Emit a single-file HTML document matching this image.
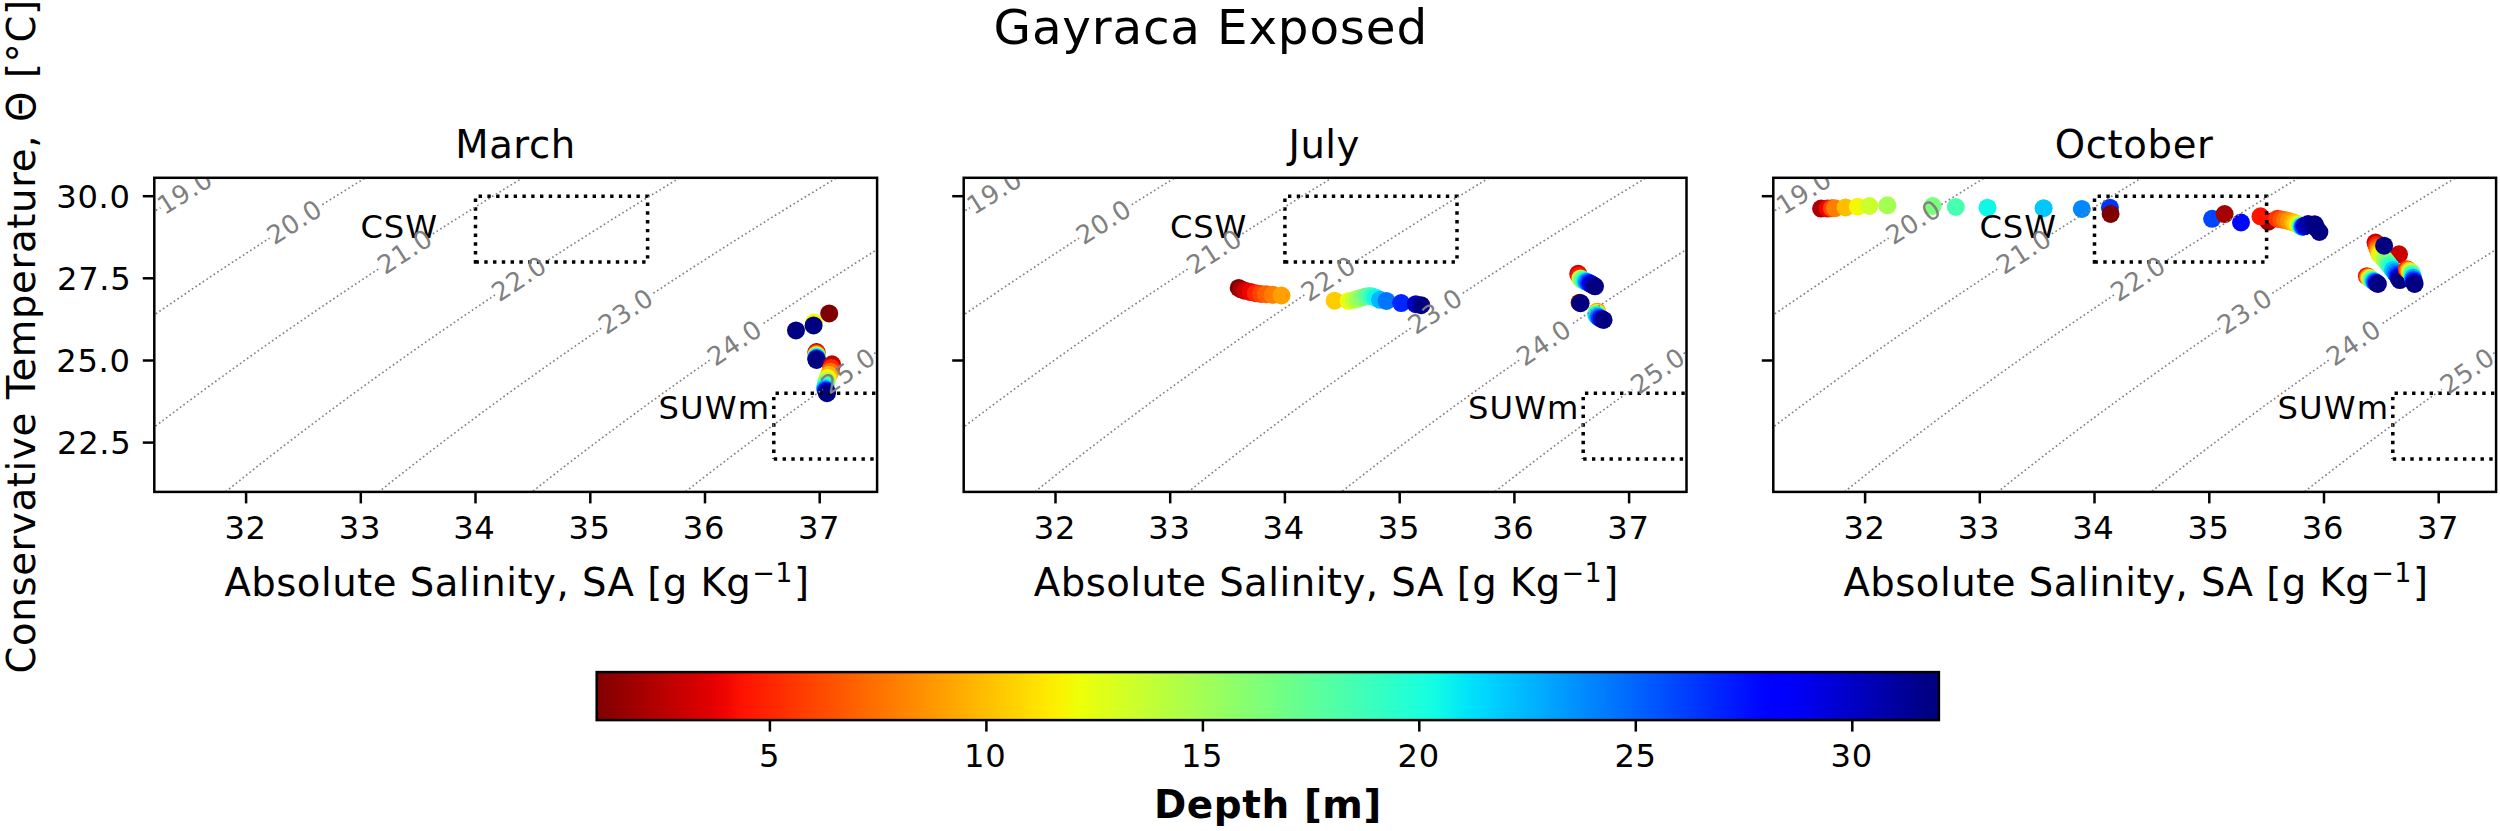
<!DOCTYPE html>
<html lang="en"><head><meta charset="utf-8"><title>Gayraca Exposed</title>
<style>html,body{margin:0;padding:0;background:#fff}svg{display:block}</style></head>
<body>
<svg width="2500" height="831" viewBox="0 0 2500 831" role="img" aria-label="Gayraca Exposed T-S diagrams">
<rect width="2500" height="831" fill="#fff"/>
<defs>
<clipPath id="c0"><rect x="154.3" y="177.8" width="722.8" height="314.1"/></clipPath>
<clipPath id="c1"><rect x="963.7" y="177.8" width="722.8" height="314.1"/></clipPath>
<clipPath id="c2"><rect x="1773.3" y="177.8" width="722.8" height="314.1"/></clipPath>
<linearGradient id="jet" x1="0" x2="1" y1="0" y2="0"><stop offset="0.0000" stop-color="#800000"/><stop offset="0.0078" stop-color="#890000"/><stop offset="0.0156" stop-color="#920000"/><stop offset="0.0234" stop-color="#9b0000"/><stop offset="0.0312" stop-color="#a40000"/><stop offset="0.0391" stop-color="#ad0000"/><stop offset="0.0469" stop-color="#b60000"/><stop offset="0.0547" stop-color="#bf0000"/><stop offset="0.0625" stop-color="#c80000"/><stop offset="0.0703" stop-color="#d10000"/><stop offset="0.0781" stop-color="#da0000"/><stop offset="0.0859" stop-color="#e40000"/><stop offset="0.0938" stop-color="#ed0400"/><stop offset="0.1016" stop-color="#f60b00"/><stop offset="0.1094" stop-color="#ff1300"/><stop offset="0.1172" stop-color="#ff1a00"/><stop offset="0.1250" stop-color="#ff2200"/><stop offset="0.1328" stop-color="#ff2900"/><stop offset="0.1406" stop-color="#ff3000"/><stop offset="0.1484" stop-color="#ff3800"/><stop offset="0.1562" stop-color="#ff3f00"/><stop offset="0.1641" stop-color="#ff4700"/><stop offset="0.1719" stop-color="#ff4e00"/><stop offset="0.1797" stop-color="#ff5500"/><stop offset="0.1875" stop-color="#ff5d00"/><stop offset="0.1953" stop-color="#ff6400"/><stop offset="0.2031" stop-color="#ff6c00"/><stop offset="0.2109" stop-color="#ff7300"/><stop offset="0.2188" stop-color="#ff7a00"/><stop offset="0.2266" stop-color="#ff8200"/><stop offset="0.2344" stop-color="#ff8900"/><stop offset="0.2422" stop-color="#ff9100"/><stop offset="0.2500" stop-color="#ff9800"/><stop offset="0.2578" stop-color="#ff9f00"/><stop offset="0.2656" stop-color="#ffa700"/><stop offset="0.2734" stop-color="#ffae00"/><stop offset="0.2812" stop-color="#ffb600"/><stop offset="0.2891" stop-color="#ffbd00"/><stop offset="0.2969" stop-color="#ffc400"/><stop offset="0.3047" stop-color="#ffcc00"/><stop offset="0.3125" stop-color="#ffd300"/><stop offset="0.3203" stop-color="#ffdb00"/><stop offset="0.3281" stop-color="#ffe200"/><stop offset="0.3359" stop-color="#ffea00"/><stop offset="0.3438" stop-color="#fbf100"/><stop offset="0.3516" stop-color="#f4f802"/><stop offset="0.3594" stop-color="#eeff09"/><stop offset="0.3672" stop-color="#e7ff0f"/><stop offset="0.3750" stop-color="#e1ff16"/><stop offset="0.3828" stop-color="#dbff1c"/><stop offset="0.3906" stop-color="#d4ff23"/><stop offset="0.3984" stop-color="#ceff29"/><stop offset="0.4062" stop-color="#c7ff30"/><stop offset="0.4141" stop-color="#c1ff36"/><stop offset="0.4219" stop-color="#baff3c"/><stop offset="0.4297" stop-color="#b4ff43"/><stop offset="0.4375" stop-color="#adff49"/><stop offset="0.4453" stop-color="#a7ff50"/><stop offset="0.4531" stop-color="#a0ff56"/><stop offset="0.4609" stop-color="#9aff5d"/><stop offset="0.4688" stop-color="#94ff63"/><stop offset="0.4766" stop-color="#8dff6a"/><stop offset="0.4844" stop-color="#87ff70"/><stop offset="0.4922" stop-color="#80ff77"/><stop offset="0.5000" stop-color="#7aff7d"/><stop offset="0.5078" stop-color="#73ff83"/><stop offset="0.5156" stop-color="#6dff8a"/><stop offset="0.5234" stop-color="#66ff90"/><stop offset="0.5312" stop-color="#60ff97"/><stop offset="0.5391" stop-color="#5aff9d"/><stop offset="0.5469" stop-color="#53ffa4"/><stop offset="0.5547" stop-color="#4dffaa"/><stop offset="0.5625" stop-color="#46ffb1"/><stop offset="0.5703" stop-color="#40ffb7"/><stop offset="0.5781" stop-color="#39ffbe"/><stop offset="0.5859" stop-color="#33ffc4"/><stop offset="0.5938" stop-color="#2cffca"/><stop offset="0.6016" stop-color="#26ffd1"/><stop offset="0.6094" stop-color="#1fffd7"/><stop offset="0.6172" stop-color="#19ffde"/><stop offset="0.6250" stop-color="#13fce4"/><stop offset="0.6328" stop-color="#0cf4eb"/><stop offset="0.6406" stop-color="#06edf1"/><stop offset="0.6484" stop-color="#00e4f8"/><stop offset="0.6562" stop-color="#00dcfe"/><stop offset="0.6641" stop-color="#00d4ff"/><stop offset="0.6719" stop-color="#00ccff"/><stop offset="0.6797" stop-color="#00c4ff"/><stop offset="0.6875" stop-color="#00bcff"/><stop offset="0.6953" stop-color="#00b4ff"/><stop offset="0.7031" stop-color="#00adff"/><stop offset="0.7109" stop-color="#00a4ff"/><stop offset="0.7188" stop-color="#009cff"/><stop offset="0.7266" stop-color="#0094ff"/><stop offset="0.7344" stop-color="#008cff"/><stop offset="0.7422" stop-color="#0084ff"/><stop offset="0.7500" stop-color="#007dff"/><stop offset="0.7578" stop-color="#0075ff"/><stop offset="0.7656" stop-color="#006dff"/><stop offset="0.7734" stop-color="#0065ff"/><stop offset="0.7812" stop-color="#005dff"/><stop offset="0.7891" stop-color="#0055ff"/><stop offset="0.7969" stop-color="#004dff"/><stop offset="0.8047" stop-color="#0045ff"/><stop offset="0.8125" stop-color="#003dff"/><stop offset="0.8203" stop-color="#0035ff"/><stop offset="0.8281" stop-color="#002dff"/><stop offset="0.8359" stop-color="#0025ff"/><stop offset="0.8438" stop-color="#001dff"/><stop offset="0.8516" stop-color="#0015ff"/><stop offset="0.8594" stop-color="#000dff"/><stop offset="0.8672" stop-color="#0005ff"/><stop offset="0.8750" stop-color="#0000ff"/><stop offset="0.8828" stop-color="#0000ff"/><stop offset="0.8906" stop-color="#0000fa"/><stop offset="0.8984" stop-color="#0000f1"/><stop offset="0.9062" stop-color="#0000e8"/><stop offset="0.9141" stop-color="#0000df"/><stop offset="0.9219" stop-color="#0000d6"/><stop offset="0.9297" stop-color="#0000cd"/><stop offset="0.9375" stop-color="#0000c4"/><stop offset="0.9453" stop-color="#0000bb"/><stop offset="0.9531" stop-color="#0000b2"/><stop offset="0.9609" stop-color="#0000a8"/><stop offset="0.9688" stop-color="#00009f"/><stop offset="0.9766" stop-color="#000096"/><stop offset="0.9844" stop-color="#00008d"/><stop offset="0.9922" stop-color="#000084"/><stop offset="1.0000" stop-color="#000080"/></linearGradient>
</defs>
<text x="993.59" y="43.50" font-size="48.40" letter-spacing="0.809" fill="#000" font-family="DejaVu Sans, Liberation Sans, sans-serif" >Gayraca Exposed</text>
<g clip-path="url(#c0)">
<circle cx="829.2" cy="313.4" r="9.0" fill="#800000"/>
<circle cx="814.0" cy="322.5" r="9.0" fill="#f4f802"/>
<circle cx="813.6" cy="325.4" r="9.0" fill="#000080"/>
<circle cx="796.0" cy="330.4" r="9.0" fill="#000080"/>
<circle cx="816.5" cy="352.1" r="9.0" fill="#a40000"/>
<circle cx="816.5" cy="353.1" r="9.0" fill="#ff1a00"/>
<circle cx="816.5" cy="354.1" r="9.0" fill="#ff6f00"/>
<circle cx="816.5" cy="355.0" r="9.0" fill="#ffc100"/>
<circle cx="816.5" cy="355.6" r="9.0" fill="#dbff1c"/>
<circle cx="816.5" cy="356.1" r="9.0" fill="#94ff63"/>
<circle cx="816.5" cy="356.7" r="9.0" fill="#49ffad"/>
<circle cx="816.5" cy="357.3" r="9.0" fill="#02e8f4"/>
<circle cx="816.5" cy="358.0" r="9.0" fill="#008cff"/>
<circle cx="816.5" cy="358.6" r="9.0" fill="#0035ff"/>
<circle cx="816.5" cy="359.3" r="9.0" fill="#0000e4"/>
<circle cx="816.5" cy="360.0" r="9.0" fill="#000080"/>
<circle cx="832.0" cy="364.3" r="9.0" fill="#c80000"/>
<circle cx="831.2" cy="368.0" r="9.0" fill="#ff2900"/>
<circle cx="830.3" cy="371.7" r="9.0" fill="#ff6f00"/>
<circle cx="829.0" cy="374.8" r="9.0" fill="#ffb200"/>
<circle cx="827.6" cy="378.0" r="9.0" fill="#f4f802"/>
<circle cx="826.7" cy="380.7" r="9.0" fill="#baff3c"/>
<circle cx="826.2" cy="383.1" r="9.0" fill="#7dff7a"/>
<circle cx="825.6" cy="385.5" r="9.0" fill="#43ffb4"/>
<circle cx="825.0" cy="387.8" r="9.0" fill="#09f0ee"/>
<circle cx="825.4" cy="389.0" r="9.0" fill="#00a4ff"/>
<circle cx="825.8" cy="390.0" r="9.0" fill="#005dff"/>
<circle cx="826.2" cy="391.1" r="9.0" fill="#0010ff"/>
<circle cx="826.6" cy="392.1" r="9.0" fill="#0000d1"/>
<circle cx="827.0" cy="393.2" r="9.0" fill="#000080"/>
<path d="M475.5 261.9 L647.6 261.9 L647.6 196.2 L475.5 196.2 Z" stroke="#000" stroke-width="3.5" stroke-dasharray="3.4 5.37" fill="none"/>
<path d="M773.8 459.0 L875.4 459.0 M875.4 393.3 L773.8 393.3 L773.8 459.0" stroke="#000" stroke-width="3.5" stroke-dasharray="3.4 5.37" fill="none"/>
<path d="M148.6 215.3 L150.4 214.1 L152.2 212.9 L154.1 211.8 L155.9 210.6 L157.8 209.4 L159.6 208.3 L160.5 207.7" fill="none" stroke="#808080" stroke-width="1.65" stroke-dasharray="1.65 2.72"/>
<path d="M148.6 318.9 L150.4 317.6 L152.2 316.3 L154.1 315.0 L155.9 313.8 L157.8 312.5 L159.6 311.2 L161.4 310.0 L163.3 308.7 L165.1 307.5 L167.0 306.2 L168.8 304.9 L170.6 303.7 L172.5 302.4 L174.3 301.2 L176.2 299.9 L178.0 298.7 L179.8 297.4 L181.7 296.2 L183.5 294.9 L185.4 293.7 L187.2 292.5 L189.0 291.2 L190.9 290.0 L192.7 288.7 L194.6 287.5 L196.4 286.3 L198.3 285.0 L200.1 283.8 L201.9 282.6 L203.8 281.3 L205.6 280.1 L207.5 278.9 L209.3 277.6 L211.1 276.4 L213.0 275.2 L214.8 274.0 L216.7 272.7 L218.5 271.5 L220.3 270.3 L222.2 269.1 L224.0 267.9 L225.9 266.6 L227.7 265.4 L229.5 264.2 L231.4 263.0 L233.2 261.8 L235.1 260.6 L236.9 259.4 L238.7 258.2 L240.6 257.0 L242.4 255.8 L244.3 254.6 L246.1 253.4 L247.9 252.2 L249.8 251.0 L251.6 249.8 L253.5 248.6 L255.3 247.4 L257.1 246.2 L259.0 245.0 L260.8 243.8 L262.7 242.6 L264.5 241.4 L266.3 240.2 L268.2 239.0 L269.7 238.1" fill="none" stroke="#808080" stroke-width="1.65" stroke-dasharray="1.65 2.72"/>
<path d="M322.3 204.6 L323.4 204.0 L325.2 202.8 L327.1 201.6 L328.9 200.5 L330.8 199.3 L332.6 198.2 L334.4 197.1 L336.3 195.9 L338.1 194.8 L340.0 193.6 L341.8 192.5 L343.6 191.3 L345.5 190.2 L347.3 189.1 L349.2 187.9 L351.0 186.8 L352.8 185.6 L354.7 184.5 L356.5 183.4 L358.4 182.2 L360.2 181.1 L362.0 180.0 L363.9 178.8 L365.7 177.7 L367.6 176.6 L369.4 175.5" fill="none" stroke="#808080" stroke-width="1.65" stroke-dasharray="1.65 2.72"/>
<path d="M148.6 431.4 L150.4 430.0 L152.2 428.6 L154.1 427.2 L155.9 425.8 L157.8 424.4 L159.6 423.0 L161.4 421.6 L163.3 420.2 L165.1 418.8 L167.0 417.4 L168.8 416.0 L170.6 414.6 L172.5 413.2 L174.3 411.9 L176.2 410.5 L178.0 409.1 L179.8 407.7 L181.7 406.4 L183.5 405.0 L185.4 403.6 L187.2 402.2 L189.0 400.9 L190.9 399.5 L192.7 398.2 L194.6 396.8 L196.4 395.4 L198.3 394.1 L200.1 392.7 L201.9 391.4 L203.8 390.0 L205.6 388.7 L207.5 387.3 L209.3 386.0 L211.1 384.6 L213.0 383.3 L214.8 381.9 L216.7 380.6 L218.5 379.3 L220.3 377.9 L222.2 376.6 L224.0 375.3 L225.9 373.9 L227.7 372.6 L229.5 371.3 L231.4 370.0 L233.2 368.6 L235.1 367.3 L236.9 366.0 L238.7 364.7 L240.6 363.4 L242.4 362.0 L244.3 360.7 L246.1 359.4 L247.9 358.1 L249.8 356.8 L251.6 355.5 L253.5 354.2 L255.3 352.9 L257.1 351.6 L259.0 350.3 L260.8 349.0 L262.7 347.7 L264.5 346.4 L266.3 345.1 L268.2 343.8 L270.0 342.5 L271.9 341.2 L273.7 339.9 L275.5 338.6 L277.4 337.4 L279.2 336.1 L281.1 334.8 L282.9 333.5 L284.7 332.2 L286.6 331.0 L288.4 329.7 L290.3 328.4 L292.1 327.1 L293.9 325.9 L295.8 324.6 L297.6 323.3 L299.5 322.1 L301.3 320.8 L303.1 319.5 L305.0 318.3 L306.8 317.0 L308.7 315.7 L310.5 314.5 L312.3 313.2 L314.2 312.0 L316.0 310.7 L317.9 309.5 L319.7 308.2 L321.6 307.0 L323.4 305.7 L325.2 304.5 L327.1 303.2 L328.9 302.0 L330.8 300.7 L332.6 299.5 L334.4 298.3 L336.3 297.0 L338.1 295.8 L340.0 294.5 L341.8 293.3 L343.6 292.1 L345.5 290.8 L347.3 289.6 L349.2 288.4 L351.0 287.2 L352.8 285.9 L354.7 284.7 L356.5 283.5 L358.4 282.3 L360.2 281.0 L362.0 279.8 L363.9 278.6 L365.7 277.4 L367.6 276.2 L369.4 274.9 L371.2 273.7 L373.1 272.5 L374.9 271.3 L376.8 270.1 L378.6 268.9 L380.4 267.7" fill="none" stroke="#808080" stroke-width="1.65" stroke-dasharray="1.65 2.72"/>
<path d="M432.8 233.8 L433.8 233.2 L435.6 232.0 L437.5 230.9 L439.3 229.7 L441.2 228.5 L443.0 227.3 L444.8 226.2 L446.7 225.0 L448.5 223.9 L450.4 222.7 L452.2 221.5 L454.1 220.4 L455.9 219.2 L457.7 218.0 L459.6 216.9 L461.4 215.7 L463.3 214.6 L465.1 213.4 L466.9 212.3 L468.8 211.1 L470.6 210.0 L472.5 208.8 L474.3 207.7 L476.1 206.5 L478.0 205.4 L479.8 204.2 L481.7 203.1 L483.5 201.9 L485.3 200.8 L487.2 199.7 L489.0 198.5 L490.9 197.4 L492.7 196.2 L494.5 195.1 L496.4 194.0 L498.2 192.8 L500.1 191.7 L501.9 190.6 L503.7 189.4 L505.6 188.3 L507.4 187.2 L509.3 186.0 L511.1 184.9 L512.9 183.8 L514.8 182.7 L516.6 181.5 L518.5 180.4 L520.3 179.3 L522.1 178.2 L524.0 177.0 L525.8 175.9 L527.7 174.8" fill="none" stroke="#808080" stroke-width="1.65" stroke-dasharray="1.65 2.72"/>
<path d="M222.2 494.5 L224.0 493.0 L225.9 491.6 L227.7 490.1 L229.5 488.6 L231.4 487.1 L233.2 485.6 L235.1 484.1 L236.9 482.7 L238.7 481.2 L240.6 479.7 L242.4 478.3 L244.3 476.8 L246.1 475.3 L247.9 473.9 L249.8 472.4 L251.6 470.9 L253.5 469.5 L255.3 468.0 L257.1 466.6 L259.0 465.1 L260.8 463.7 L262.7 462.3 L264.5 460.8 L266.3 459.4 L268.2 457.9 L270.0 456.5 L271.9 455.1 L273.7 453.6 L275.5 452.2 L277.4 450.8 L279.2 449.4 L281.1 447.9 L282.9 446.5 L284.7 445.1 L286.6 443.7 L288.4 442.3 L290.3 440.9 L292.1 439.5 L293.9 438.1 L295.8 436.7 L297.6 435.3 L299.5 433.9 L301.3 432.5 L303.1 431.1 L305.0 429.7 L306.8 428.3 L308.7 426.9 L310.5 425.5 L312.3 424.1 L314.2 422.7 L316.0 421.3 L317.9 420.0 L319.7 418.6 L321.6 417.2 L323.4 415.8 L325.2 414.5 L327.1 413.1 L328.9 411.7 L330.8 410.3 L332.6 409.0 L334.4 407.6 L336.3 406.3 L338.1 404.9 L340.0 403.5 L341.8 402.2 L343.6 400.8 L345.5 399.5 L347.3 398.1 L349.2 396.8 L351.0 395.4 L352.8 394.1 L354.7 392.7 L356.5 391.4 L358.4 390.1 L360.2 388.7 L362.0 387.4 L363.9 386.1 L365.7 384.7 L367.6 383.4 L369.4 382.1 L371.2 380.7 L373.1 379.4 L374.9 378.1 L376.8 376.8 L378.6 375.4 L380.4 374.1 L382.3 372.8 L384.1 371.5 L386.0 370.2 L387.8 368.9 L389.6 367.5 L391.5 366.2 L393.3 364.9 L395.2 363.6 L397.0 362.3 L398.8 361.0 L400.7 359.7 L402.5 358.4 L404.4 357.1 L406.2 355.8 L408.0 354.5 L409.9 353.2 L411.7 351.9 L413.6 350.6 L415.4 349.4 L417.2 348.1 L419.1 346.8 L420.9 345.5 L422.8 344.2 L424.6 342.9 L426.4 341.7 L428.3 340.4 L430.1 339.1 L432.0 337.8 L433.8 336.6 L435.6 335.3 L437.5 334.0 L439.3 332.7 L441.2 331.5 L443.0 330.2 L444.8 328.9 L446.7 327.7 L448.5 326.4 L450.4 325.2 L452.2 323.9 L454.1 322.6 L455.9 321.4 L457.7 320.1 L459.6 318.9 L461.4 317.6 L463.3 316.4 L465.1 315.1 L466.9 313.9 L468.8 312.6 L470.6 311.4 L472.5 310.1 L474.3 308.9 L476.1 307.7 L478.0 306.4 L479.8 305.2 L481.7 304.0 L483.5 302.7 L485.3 301.5 L487.2 300.2 L489.0 299.0 L490.9 297.8 L492.7 296.6 L494.5 295.3 L496.3 294.1" fill="none" stroke="#808080" stroke-width="1.65" stroke-dasharray="1.65 2.72"/>
<path d="M548.5 259.9 L549.7 259.1 L551.6 257.9 L553.4 256.7 L555.3 255.5 L557.1 254.4 L558.9 253.2 L560.8 252.0 L562.6 250.8 L564.5 249.6 L566.3 248.4 L568.1 247.3 L570.0 246.1 L571.8 244.9 L573.7 243.7 L575.5 242.6 L577.3 241.4 L579.2 240.2 L581.0 239.1 L582.9 237.9 L584.7 236.7 L586.6 235.5 L588.4 234.4 L590.2 233.2 L592.1 232.1 L593.9 230.9 L595.8 229.7 L597.6 228.6 L599.4 227.4 L601.3 226.3 L603.1 225.1 L605.0 223.9 L606.8 222.8 L608.6 221.6 L610.5 220.5 L612.3 219.3 L614.2 218.2 L616.0 217.0 L617.8 215.9 L619.7 214.7 L621.5 213.6 L623.4 212.4 L625.2 211.3 L627.0 210.2 L628.9 209.0 L630.7 207.9 L632.6 206.7 L634.4 205.6 L636.2 204.5 L638.1 203.3 L639.9 202.2 L641.8 201.0 L643.6 199.9 L645.4 198.8 L647.3 197.6 L649.1 196.5 L651.0 195.4 L652.8 194.3 L654.6 193.1 L656.5 192.0 L658.3 190.9 L660.2 189.8 L662.0 188.6 L663.8 187.5 L665.7 186.4 L667.5 185.3 L669.4 184.1 L671.2 183.0 L673.0 181.9 L674.9 180.8 L676.7 179.7 L678.6 178.6 L680.4 177.4 L682.2 176.3 L684.1 175.2" fill="none" stroke="#808080" stroke-width="1.65" stroke-dasharray="1.65 2.72"/>
<path d="M374.9 495.0 L376.8 493.5 L378.6 492.0 L380.4 490.6 L382.3 489.1 L384.1 487.6 L386.0 486.2 L387.8 484.7 L389.6 483.2 L391.5 481.8 L393.3 480.3 L395.2 478.9 L397.0 477.4 L398.8 476.0 L400.7 474.5 L402.5 473.1 L404.4 471.6 L406.2 470.2 L408.0 468.7 L409.9 467.3 L411.7 465.9 L413.6 464.4 L415.4 463.0 L417.2 461.6 L419.1 460.1 L420.9 458.7 L422.8 457.3 L424.6 455.9 L426.4 454.5 L428.3 453.0 L430.1 451.6 L432.0 450.2 L433.8 448.8 L435.6 447.4 L437.5 446.0 L439.3 444.6 L441.2 443.2 L443.0 441.8 L444.8 440.4 L446.7 439.0 L448.5 437.6 L450.4 436.2 L452.2 434.8 L454.1 433.4 L455.9 432.1 L457.7 430.7 L459.6 429.3 L461.4 427.9 L463.3 426.5 L465.1 425.2 L466.9 423.8 L468.8 422.4 L470.6 421.1 L472.5 419.7 L474.3 418.3 L476.1 417.0 L478.0 415.6 L479.8 414.2 L481.7 412.9 L483.5 411.5 L485.3 410.2 L487.2 408.8 L489.0 407.5 L490.9 406.1 L492.7 404.8 L494.5 403.4 L496.4 402.1 L498.2 400.7 L500.1 399.4 L501.9 398.1 L503.7 396.7 L505.6 395.4 L507.4 394.0 L509.3 392.7 L511.1 391.4 L512.9 390.1 L514.8 388.7 L516.6 387.4 L518.5 386.1 L520.3 384.8 L522.1 383.4 L524.0 382.1 L525.8 380.8 L527.7 379.5 L529.5 378.2 L531.3 376.9 L533.2 375.6 L535.0 374.2 L536.9 372.9 L538.7 371.6 L540.5 370.3 L542.4 369.0 L544.2 367.7 L546.1 366.4 L547.9 365.1 L549.7 363.8 L551.6 362.5 L553.4 361.3 L555.3 360.0 L557.1 358.7 L558.9 357.4 L560.8 356.1 L562.6 354.8 L564.5 353.5 L566.3 352.2 L568.1 351.0 L570.0 349.7 L571.8 348.4 L573.7 347.1 L575.5 345.9 L577.3 344.6 L579.2 343.3 L581.0 342.0 L582.9 340.8 L584.7 339.5 L586.6 338.2 L588.4 337.0 L590.2 335.7 L592.1 334.5 L593.9 333.2 L595.8 331.9 L597.6 330.7 L599.4 329.4 L601.3 328.2 L601.6 328.0" fill="none" stroke="#808080" stroke-width="1.65" stroke-dasharray="1.65 2.72"/>
<path d="M653.4 293.2 L654.6 292.4 L656.5 291.2 L658.3 290.0 L660.2 288.8 L662.0 287.6 L663.8 286.4 L665.7 285.1 L667.5 283.9 L669.4 282.7 L671.2 281.5 L673.0 280.3 L674.9 279.1 L676.7 277.9 L678.6 276.7 L680.4 275.5 L682.2 274.3 L684.1 273.1 L685.9 271.9 L687.8 270.8 L689.6 269.6 L691.4 268.4 L693.3 267.2 L695.1 266.0 L697.0 264.8 L698.8 263.6 L700.6 262.4 L702.5 261.3 L704.3 260.1 L706.2 258.9 L708.0 257.7 L709.8 256.5 L711.7 255.4 L713.5 254.2 L715.4 253.0 L717.2 251.8 L719.1 250.7 L720.9 249.5 L722.7 248.3 L724.6 247.1 L726.4 246.0 L728.3 244.8 L730.1 243.6 L731.9 242.5 L733.8 241.3 L735.6 240.1 L737.5 239.0 L739.3 237.8 L741.1 236.7 L743.0 235.5 L744.8 234.4 L746.7 233.2 L748.5 232.0 L750.3 230.9 L752.2 229.7 L754.0 228.6 L755.9 227.4 L757.7 226.3 L759.5 225.1 L761.4 224.0 L763.2 222.8 L765.1 221.7 L766.9 220.5 L768.7 219.4 L770.6 218.3 L772.4 217.1 L774.3 216.0 L776.1 214.8 L777.9 213.7 L779.8 212.6 L781.6 211.4 L783.5 210.3 L785.3 209.2 L787.1 208.0 L789.0 206.9 L790.8 205.8 L792.7 204.6 L794.5 203.5 L796.3 202.4 L798.2 201.2 L800.0 200.1 L801.9 199.0 L803.7 197.9 L805.5 196.7 L807.4 195.6 L809.2 194.5 L811.1 193.4 L812.9 192.3 L814.7 191.1 L816.6 190.0 L818.4 188.9 L820.3 187.8 L822.1 186.7 L823.9 185.6 L825.8 184.5 L827.6 183.3 L829.5 182.2 L831.3 181.1 L833.1 180.0 L835.0 178.9 L836.8 177.8 L838.7 176.7 L840.5 175.6" fill="none" stroke="#808080" stroke-width="1.65" stroke-dasharray="1.65 2.72"/>
<path d="M529.5 493.9 L531.3 492.5 L533.2 491.0 L535.0 489.5 L536.9 488.1 L538.7 486.6 L540.5 485.2 L542.4 483.7 L544.2 482.3 L546.1 480.8 L547.9 479.4 L549.7 478.0 L551.6 476.5 L553.4 475.1 L555.3 473.7 L557.1 472.2 L558.9 470.8 L560.8 469.4 L562.6 467.9 L564.5 466.5 L566.3 465.1 L568.1 463.7 L570.0 462.3 L571.8 460.9 L573.7 459.4 L575.5 458.0 L577.3 456.6 L579.2 455.2 L581.0 453.8 L582.9 452.4 L584.7 451.0 L586.6 449.6 L588.4 448.2 L590.2 446.8 L592.1 445.4 L593.9 444.0 L595.8 442.7 L597.6 441.3 L599.4 439.9 L601.3 438.5 L603.1 437.1 L605.0 435.7 L606.8 434.4 L608.6 433.0 L610.5 431.6 L612.3 430.3 L614.2 428.9 L616.0 427.5 L617.8 426.2 L619.7 424.8 L621.5 423.4 L623.4 422.1 L625.2 420.7 L627.0 419.4 L628.9 418.0 L630.7 416.7 L632.6 415.3 L634.4 414.0 L636.2 412.6 L638.1 411.3 L639.9 409.9 L641.8 408.6 L643.6 407.2 L645.4 405.9 L647.3 404.6 L649.1 403.2 L651.0 401.9 L652.8 400.6 L654.6 399.3 L656.5 397.9 L658.3 396.6 L660.2 395.3 L662.0 394.0 L663.8 392.6 L665.7 391.3 L667.5 390.0 L669.4 388.7 L671.2 387.4 L673.0 386.1 L674.9 384.7 L676.7 383.4 L678.6 382.1 L680.4 380.8 L682.2 379.5 L684.1 378.2 L685.9 376.9 L687.8 375.6 L689.6 374.3 L691.4 373.0 L693.3 371.7 L695.1 370.4 L697.0 369.1 L698.8 367.9 L700.6 366.6 L702.5 365.3 L704.3 364.0 L706.2 362.7 L708.0 361.4 L709.8 360.1 L711.7 358.9 L712.0 358.6" fill="none" stroke="#808080" stroke-width="1.65" stroke-dasharray="1.65 2.72"/>
<path d="M763.6 323.4 L765.1 322.4 L766.9 321.2 L768.7 319.9 L770.6 318.7 L772.4 317.5 L774.3 316.2 L776.1 315.0 L777.9 313.8 L779.8 312.6 L781.6 311.3 L783.5 310.1 L785.3 308.9 L787.1 307.7 L789.0 306.4 L790.8 305.2 L792.7 304.0 L794.5 302.8 L796.3 301.6 L798.2 300.4 L800.0 299.1 L801.9 297.9 L803.7 296.7 L805.5 295.5 L807.4 294.3 L809.2 293.1 L811.1 291.9 L812.9 290.7 L814.7 289.5 L816.6 288.3 L818.4 287.1 L820.3 285.9 L822.1 284.7 L823.9 283.5 L825.8 282.3 L827.6 281.1 L829.5 279.9 L831.3 278.7 L833.1 277.5 L835.0 276.3 L836.8 275.1 L838.7 274.0 L840.5 272.8 L842.4 271.6 L844.2 270.4 L846.0 269.2 L847.9 268.0 L849.7 266.9 L851.6 265.7 L853.4 264.5 L855.2 263.3 L857.1 262.2 L858.9 261.0 L860.8 259.8 L862.6 258.6 L864.4 257.5 L866.3 256.3 L868.1 255.1 L870.0 254.0 L871.8 252.8 L873.6 251.6 L875.5 250.5 L877.3 249.3 L879.2 248.1 L881.0 247.0 L882.8 245.8" fill="none" stroke="#808080" stroke-width="1.65" stroke-dasharray="1.65 2.72"/>
<path d="M682.2 494.3 L684.1 492.8 L685.9 491.4 L687.8 489.9 L689.6 488.5 L691.4 487.0 L693.3 485.6 L695.1 484.2 L697.0 482.7 L698.8 481.3 L700.6 479.9 L702.5 478.4 L704.3 477.0 L706.2 475.6 L708.0 474.2 L709.8 472.8 L711.7 471.3 L713.5 469.9 L715.4 468.5 L717.2 467.1 L719.1 465.7 L720.9 464.3 L722.7 462.9 L724.6 461.5 L726.4 460.1 L728.3 458.7 L730.1 457.3 L731.9 455.9 L733.8 454.5 L735.6 453.1 L737.5 451.7 L739.3 450.3 L741.1 449.0 L743.0 447.6 L744.8 446.2 L746.7 444.8 L748.5 443.4 L750.3 442.1 L752.2 440.7 L754.0 439.3 L755.9 438.0 L757.7 436.6 L759.5 435.2 L761.4 433.9 L763.2 432.5 L765.1 431.1 L766.9 429.8 L768.7 428.4 L770.6 427.1 L772.4 425.7 L774.3 424.4 L776.1 423.0 L777.9 421.7 L779.8 420.3 L781.6 419.0 L783.5 417.7 L785.3 416.3 L787.1 415.0 L789.0 413.6 L790.8 412.3 L792.7 411.0 L794.5 409.6 L796.3 408.3 L798.2 407.0 L800.0 405.7 L801.9 404.3 L803.7 403.0 L805.5 401.7 L807.4 400.4 L809.2 399.1 L811.1 397.7 L812.9 396.4 L814.7 395.1 L816.6 393.8 L818.4 392.5 L820.3 391.2 L822.1 389.9 L822.9 389.3" fill="none" stroke="#808080" stroke-width="1.65" stroke-dasharray="1.65 2.72"/>
<path d="M874.1 353.6 L875.5 352.7 L877.3 351.4 L879.2 350.2 L881.0 348.9 L882.8 347.7" fill="none" stroke="#808080" stroke-width="1.65" stroke-dasharray="1.65 2.72"/>
<text x="360.50" y="238.00" font-size="32.20" letter-spacing="0.883" fill="#000" font-family="DejaVu Sans, Liberation Sans, sans-serif" >CSW</text>
<text x="658.57" y="419.40" font-size="32.20" letter-spacing="1.101" fill="#000" font-family="DejaVu Sans, Liberation Sans, sans-serif" >SUWm</text>
<g transform="translate(187.0 191.1) rotate(-32.0)"><text x="-31.92" y="8.74" font-size="25.70" letter-spacing="0.500" fill="#808080" font-family="DejaVu Sans, Liberation Sans, sans-serif" >19.0</text></g>
<g transform="translate(296.0 221.2) rotate(-32.4)"><text x="-31.46" y="8.74" font-size="25.70" letter-spacing="0.500" fill="#808080" font-family="DejaVu Sans, Liberation Sans, sans-serif" >20.0</text></g>
<g transform="translate(406.6 250.7) rotate(-32.9)"><text x="-31.46" y="8.74" font-size="25.70" letter-spacing="0.500" fill="#808080" font-family="DejaVu Sans, Liberation Sans, sans-serif" >21.0</text></g>
<g transform="translate(522.4 276.9) rotate(-33.3)"><text x="-33.36" y="8.74" font-size="25.70" letter-spacing="0.500" fill="#808080" font-family="DejaVu Sans, Liberation Sans, sans-serif" >22.0</text></g>
<g transform="translate(627.5 310.5) rotate(-33.8)"><text x="-31.46" y="8.74" font-size="25.70" letter-spacing="0.500" fill="#808080" font-family="DejaVu Sans, Liberation Sans, sans-serif" >23.0</text></g>
<g transform="translate(737.8 340.9) rotate(-34.3)"><text x="-33.36" y="8.74" font-size="25.70" letter-spacing="0.500" fill="#808080" font-family="DejaVu Sans, Liberation Sans, sans-serif" >24.0</text></g>
<g transform="translate(848.5 371.3) rotate(-34.9)"><text x="-29.46" y="8.74" font-size="25.70" letter-spacing="0.500" fill="#808080" font-family="DejaVu Sans, Liberation Sans, sans-serif" >25.0</text></g>
</g>
<rect x="154.3" y="177.8" width="722.8" height="314.1" fill="none" stroke="#000" stroke-width="2.5"/>
<line x1="246.1" x2="246.1" y1="491.9" y2="503.4" stroke="#000" stroke-width="2.5"/>
<text x="224.47" y="538.90" font-size="32.20" letter-spacing="0.650" fill="#000" font-family="DejaVu Sans, Liberation Sans, sans-serif" >32</text>
<line x1="360.8" x2="360.8" y1="491.9" y2="503.4" stroke="#000" stroke-width="2.5"/>
<text x="338.87" y="538.90" font-size="32.20" letter-spacing="0.650" fill="#000" font-family="DejaVu Sans, Liberation Sans, sans-serif" >33</text>
<line x1="475.5" x2="475.5" y1="491.9" y2="503.4" stroke="#000" stroke-width="2.5"/>
<text x="453.22" y="538.90" font-size="32.20" letter-spacing="0.650" fill="#000" font-family="DejaVu Sans, Liberation Sans, sans-serif" >34</text>
<line x1="590.3" x2="590.3" y1="491.9" y2="503.4" stroke="#000" stroke-width="2.5"/>
<text x="568.46" y="538.90" font-size="32.20" letter-spacing="0.650" fill="#000" font-family="DejaVu Sans, Liberation Sans, sans-serif" >35</text>
<line x1="705.0" x2="705.0" y1="491.9" y2="503.4" stroke="#000" stroke-width="2.5"/>
<text x="682.78" y="538.90" font-size="32.20" letter-spacing="0.650" fill="#000" font-family="DejaVu Sans, Liberation Sans, sans-serif" >36</text>
<line x1="819.7" x2="819.7" y1="491.9" y2="503.4" stroke="#000" stroke-width="2.5"/>
<text x="797.89" y="538.90" font-size="32.20" letter-spacing="0.650" fill="#000" font-family="DejaVu Sans, Liberation Sans, sans-serif" >37</text>
<line x1="142.8" x2="154.3" y1="442.6" y2="442.6" stroke="#000" stroke-width="2.5"/>
<text x="57.01" y="453.92" font-size="32.20" letter-spacing="0.650" fill="#000" font-family="DejaVu Sans, Liberation Sans, sans-serif" >22.5</text>
<line x1="142.8" x2="154.3" y1="360.5" y2="360.5" stroke="#000" stroke-width="2.5"/>
<text x="56.30" y="371.78" font-size="32.20" letter-spacing="0.650" fill="#000" font-family="DejaVu Sans, Liberation Sans, sans-serif" >25.0</text>
<line x1="142.8" x2="154.3" y1="278.3" y2="278.3" stroke="#000" stroke-width="2.5"/>
<text x="57.01" y="289.64" font-size="32.20" letter-spacing="0.650" fill="#000" font-family="DejaVu Sans, Liberation Sans, sans-serif" >27.5</text>
<line x1="142.8" x2="154.3" y1="196.2" y2="196.2" stroke="#000" stroke-width="2.5"/>
<text x="56.30" y="207.50" font-size="32.20" letter-spacing="0.650" fill="#000" font-family="DejaVu Sans, Liberation Sans, sans-serif" >30.0</text>
<text x="455.32" y="158.30" font-size="38.60" letter-spacing="0.562" fill="#000" font-family="DejaVu Sans, Liberation Sans, sans-serif" >March</text>
<text x="224.39" y="596.00" font-size="38.60" letter-spacing="0.497" fill="#000" font-family="DejaVu Sans, Liberation Sans, sans-serif" >Absolute Salinity, SA [g Kg</text>
<text x="752.14" y="581.80" font-size="27.00" letter-spacing="0.448" fill="#000" font-family="DejaVu Sans, Liberation Sans, sans-serif" >−1</text>
<text x="793.92" y="596.00" font-size="38.60" letter-spacing="0.000" fill="#000" font-family="DejaVu Sans, Liberation Sans, sans-serif" >]</text>
<g clip-path="url(#c1)">
<circle cx="1238.7" cy="287.9" r="9.0" fill="#800000"/>
<circle cx="1241.2" cy="289.4" r="9.0" fill="#a40000"/>
<circle cx="1245.2" cy="290.8" r="9.0" fill="#c80000"/>
<circle cx="1250.6" cy="292.1" r="9.0" fill="#ed0400"/>
<circle cx="1255.8" cy="293.2" r="9.0" fill="#ff2500"/>
<circle cx="1260.9" cy="293.9" r="9.0" fill="#ff4300"/>
<circle cx="1266.0" cy="294.2" r="9.0" fill="#ff6000"/>
<circle cx="1272.8" cy="294.8" r="9.0" fill="#ff7e00"/>
<circle cx="1281.5" cy="295.5" r="9.0" fill="#ff9f00"/>
<circle cx="1334.6" cy="300.7" r="9.0" fill="#ffcc00"/>
<circle cx="1348.6" cy="300.9" r="9.0" fill="#e7ff0f"/>
<circle cx="1354.0" cy="300.0" r="9.0" fill="#beff39"/>
<circle cx="1358.0" cy="298.8" r="9.0" fill="#a4ff53"/>
<circle cx="1361.6" cy="297.7" r="9.0" fill="#8aff6d"/>
<circle cx="1365.5" cy="296.6" r="9.0" fill="#6dff8a"/>
<circle cx="1369.2" cy="296.0" r="9.0" fill="#53ffa4"/>
<circle cx="1372.5" cy="296.6" r="9.0" fill="#30ffc7"/>
<circle cx="1375.7" cy="297.7" r="9.0" fill="#0ff8e7"/>
<circle cx="1380.0" cy="299.8" r="9.0" fill="#00b8ff"/>
<circle cx="1386.5" cy="300.9" r="9.0" fill="#0075ff"/>
<circle cx="1401.2" cy="303.1" r="9.0" fill="#0025ff"/>
<circle cx="1415.8" cy="304.2" r="9.0" fill="#0000c8"/>
<circle cx="1421.2" cy="305.2" r="9.0" fill="#000080"/>
<circle cx="1578.2" cy="273.8" r="9.0" fill="#c80000"/>
<circle cx="1579.0" cy="275.6" r="9.0" fill="#ff1300"/>
<circle cx="1580.4" cy="278.4" r="9.0" fill="#caff2c"/>
<circle cx="1581.7" cy="279.3" r="9.0" fill="#94ff63"/>
<circle cx="1583.1" cy="280.1" r="9.0" fill="#5dff9a"/>
<circle cx="1584.5" cy="280.8" r="9.0" fill="#26ffd1"/>
<circle cx="1585.8" cy="281.4" r="9.0" fill="#00d0ff"/>
<circle cx="1587.1" cy="282.0" r="9.0" fill="#008cff"/>
<circle cx="1588.6" cy="282.7" r="9.0" fill="#0048ff"/>
<circle cx="1590.3" cy="283.6" r="9.0" fill="#0005ff"/>
<circle cx="1592.4" cy="284.8" r="9.0" fill="#0000c8"/>
<circle cx="1595.0" cy="286.3" r="9.0" fill="#000080"/>
<circle cx="1579.6" cy="302.7" r="9.0" fill="#800000"/>
<circle cx="1580.6" cy="303.2" r="9.0" fill="#000080"/>
<circle cx="1597.2" cy="311.7" r="9.0" fill="#ff7e00"/>
<circle cx="1596.9" cy="312.4" r="9.0" fill="#ffd000"/>
<circle cx="1596.7" cy="313.2" r="9.0" fill="#d1ff26"/>
<circle cx="1596.4" cy="313.9" r="9.0" fill="#8aff6d"/>
<circle cx="1596.1" cy="314.6" r="9.0" fill="#43ffb4"/>
<circle cx="1596.8" cy="315.7" r="9.0" fill="#00e0fb"/>
<circle cx="1598.3" cy="317.0" r="9.0" fill="#0088ff"/>
<circle cx="1600.0" cy="318.2" r="9.0" fill="#0030ff"/>
<circle cx="1601.8" cy="319.1" r="9.0" fill="#0000e4"/>
<circle cx="1603.6" cy="319.9" r="9.0" fill="#000080"/>
<path d="M1284.9 261.9 L1457.0 261.9 L1457.0 196.2 L1284.9 196.2 Z" stroke="#000" stroke-width="3.5" stroke-dasharray="3.4 5.37" fill="none"/>
<path d="M1583.2 459.0 L1684.8 459.0 M1684.8 393.3 L1583.2 393.3 L1583.2 459.0" stroke="#000" stroke-width="3.5" stroke-dasharray="3.4 5.37" fill="none"/>
<path d="M958.0 215.3 L959.8 214.1 L961.6 212.9 L963.5 211.8 L965.3 210.6 L967.2 209.4 L969.0 208.3 L969.9 207.7" fill="none" stroke="#808080" stroke-width="1.65" stroke-dasharray="1.65 2.72"/>
<path d="M958.0 318.9 L959.8 317.6 L961.6 316.3 L963.5 315.0 L965.3 313.8 L967.2 312.5 L969.0 311.2 L970.8 310.0 L972.7 308.7 L974.5 307.5 L976.4 306.2 L978.2 304.9 L980.0 303.7 L981.9 302.4 L983.7 301.2 L985.6 299.9 L987.4 298.7 L989.2 297.4 L991.1 296.2 L992.9 294.9 L994.8 293.7 L996.6 292.5 L998.4 291.2 L1000.3 290.0 L1002.1 288.7 L1004.0 287.5 L1005.8 286.3 L1007.7 285.0 L1009.5 283.8 L1011.3 282.6 L1013.2 281.3 L1015.0 280.1 L1016.9 278.9 L1018.7 277.6 L1020.5 276.4 L1022.4 275.2 L1024.2 274.0 L1026.1 272.7 L1027.9 271.5 L1029.7 270.3 L1031.6 269.1 L1033.4 267.9 L1035.3 266.6 L1037.1 265.4 L1038.9 264.2 L1040.8 263.0 L1042.6 261.8 L1044.5 260.6 L1046.3 259.4 L1048.1 258.2 L1050.0 257.0 L1051.8 255.8 L1053.7 254.6 L1055.5 253.4 L1057.3 252.2 L1059.2 251.0 L1061.0 249.8 L1062.9 248.6 L1064.7 247.4 L1066.5 246.2 L1068.4 245.0 L1070.2 243.8 L1072.1 242.6 L1073.9 241.4 L1075.7 240.2 L1077.6 239.0 L1079.1 238.1" fill="none" stroke="#808080" stroke-width="1.65" stroke-dasharray="1.65 2.72"/>
<path d="M1131.7 204.6 L1132.8 204.0 L1134.6 202.8 L1136.5 201.6 L1138.3 200.5 L1140.2 199.3 L1142.0 198.2 L1143.8 197.1 L1145.7 195.9 L1147.5 194.8 L1149.4 193.6 L1151.2 192.5 L1153.0 191.3 L1154.9 190.2 L1156.7 189.1 L1158.6 187.9 L1160.4 186.8 L1162.2 185.6 L1164.1 184.5 L1165.9 183.4 L1167.8 182.2 L1169.6 181.1 L1171.4 180.0 L1173.3 178.8 L1175.1 177.7 L1177.0 176.6 L1178.8 175.5" fill="none" stroke="#808080" stroke-width="1.65" stroke-dasharray="1.65 2.72"/>
<path d="M958.0 431.4 L959.8 430.0 L961.6 428.6 L963.5 427.2 L965.3 425.8 L967.2 424.4 L969.0 423.0 L970.8 421.6 L972.7 420.2 L974.5 418.8 L976.4 417.4 L978.2 416.0 L980.0 414.6 L981.9 413.2 L983.7 411.9 L985.6 410.5 L987.4 409.1 L989.2 407.7 L991.1 406.4 L992.9 405.0 L994.8 403.6 L996.6 402.2 L998.4 400.9 L1000.3 399.5 L1002.1 398.2 L1004.0 396.8 L1005.8 395.4 L1007.7 394.1 L1009.5 392.7 L1011.3 391.4 L1013.2 390.0 L1015.0 388.7 L1016.9 387.3 L1018.7 386.0 L1020.5 384.6 L1022.4 383.3 L1024.2 381.9 L1026.1 380.6 L1027.9 379.3 L1029.7 377.9 L1031.6 376.6 L1033.4 375.3 L1035.3 373.9 L1037.1 372.6 L1038.9 371.3 L1040.8 370.0 L1042.6 368.6 L1044.5 367.3 L1046.3 366.0 L1048.1 364.7 L1050.0 363.4 L1051.8 362.0 L1053.7 360.7 L1055.5 359.4 L1057.3 358.1 L1059.2 356.8 L1061.0 355.5 L1062.9 354.2 L1064.7 352.9 L1066.5 351.6 L1068.4 350.3 L1070.2 349.0 L1072.1 347.7 L1073.9 346.4 L1075.7 345.1 L1077.6 343.8 L1079.4 342.5 L1081.3 341.2 L1083.1 339.9 L1084.9 338.6 L1086.8 337.4 L1088.6 336.1 L1090.5 334.8 L1092.3 333.5 L1094.1 332.2 L1096.0 331.0 L1097.8 329.7 L1099.7 328.4 L1101.5 327.1 L1103.3 325.9 L1105.2 324.6 L1107.0 323.3 L1108.9 322.1 L1110.7 320.8 L1112.5 319.5 L1114.4 318.3 L1116.2 317.0 L1118.1 315.7 L1119.9 314.5 L1121.7 313.2 L1123.6 312.0 L1125.4 310.7 L1127.3 309.5 L1129.1 308.2 L1131.0 307.0 L1132.8 305.7 L1134.6 304.5 L1136.5 303.2 L1138.3 302.0 L1140.2 300.7 L1142.0 299.5 L1143.8 298.3 L1145.7 297.0 L1147.5 295.8 L1149.4 294.5 L1151.2 293.3 L1153.0 292.1 L1154.9 290.8 L1156.7 289.6 L1158.6 288.4 L1160.4 287.2 L1162.2 285.9 L1164.1 284.7 L1165.9 283.5 L1167.8 282.3 L1169.6 281.0 L1171.4 279.8 L1173.3 278.6 L1175.1 277.4 L1177.0 276.2 L1178.8 274.9 L1180.6 273.7 L1182.5 272.5 L1184.3 271.3 L1186.2 270.1 L1188.0 268.9 L1189.8 267.7" fill="none" stroke="#808080" stroke-width="1.65" stroke-dasharray="1.65 2.72"/>
<path d="M1242.2 233.8 L1243.2 233.2 L1245.0 232.0 L1246.9 230.9 L1248.7 229.7 L1250.6 228.5 L1252.4 227.3 L1254.2 226.2 L1256.1 225.0 L1257.9 223.9 L1259.8 222.7 L1261.6 221.5 L1263.5 220.4 L1265.3 219.2 L1267.1 218.0 L1269.0 216.9 L1270.8 215.7 L1272.7 214.6 L1274.5 213.4 L1276.3 212.3 L1278.2 211.1 L1280.0 210.0 L1281.9 208.8 L1283.7 207.7 L1285.5 206.5 L1287.4 205.4 L1289.2 204.2 L1291.1 203.1 L1292.9 201.9 L1294.7 200.8 L1296.6 199.7 L1298.4 198.5 L1300.3 197.4 L1302.1 196.2 L1303.9 195.1 L1305.8 194.0 L1307.6 192.8 L1309.5 191.7 L1311.3 190.6 L1313.1 189.4 L1315.0 188.3 L1316.8 187.2 L1318.7 186.0 L1320.5 184.9 L1322.3 183.8 L1324.2 182.7 L1326.0 181.5 L1327.9 180.4 L1329.7 179.3 L1331.5 178.2 L1333.4 177.0 L1335.2 175.9 L1337.1 174.8" fill="none" stroke="#808080" stroke-width="1.65" stroke-dasharray="1.65 2.72"/>
<path d="M1031.6 494.5 L1033.4 493.0 L1035.3 491.6 L1037.1 490.1 L1038.9 488.6 L1040.8 487.1 L1042.6 485.6 L1044.5 484.1 L1046.3 482.7 L1048.1 481.2 L1050.0 479.7 L1051.8 478.3 L1053.7 476.8 L1055.5 475.3 L1057.3 473.9 L1059.2 472.4 L1061.0 470.9 L1062.9 469.5 L1064.7 468.0 L1066.5 466.6 L1068.4 465.1 L1070.2 463.7 L1072.1 462.3 L1073.9 460.8 L1075.7 459.4 L1077.6 457.9 L1079.4 456.5 L1081.3 455.1 L1083.1 453.6 L1084.9 452.2 L1086.8 450.8 L1088.6 449.4 L1090.5 447.9 L1092.3 446.5 L1094.1 445.1 L1096.0 443.7 L1097.8 442.3 L1099.7 440.9 L1101.5 439.5 L1103.3 438.1 L1105.2 436.7 L1107.0 435.3 L1108.9 433.9 L1110.7 432.5 L1112.5 431.1 L1114.4 429.7 L1116.2 428.3 L1118.1 426.9 L1119.9 425.5 L1121.7 424.1 L1123.6 422.7 L1125.4 421.3 L1127.3 420.0 L1129.1 418.6 L1131.0 417.2 L1132.8 415.8 L1134.6 414.5 L1136.5 413.1 L1138.3 411.7 L1140.2 410.3 L1142.0 409.0 L1143.8 407.6 L1145.7 406.3 L1147.5 404.9 L1149.4 403.5 L1151.2 402.2 L1153.0 400.8 L1154.9 399.5 L1156.7 398.1 L1158.6 396.8 L1160.4 395.4 L1162.2 394.1 L1164.1 392.7 L1165.9 391.4 L1167.8 390.1 L1169.6 388.7 L1171.4 387.4 L1173.3 386.1 L1175.1 384.7 L1177.0 383.4 L1178.8 382.1 L1180.6 380.7 L1182.5 379.4 L1184.3 378.1 L1186.2 376.8 L1188.0 375.4 L1189.8 374.1 L1191.7 372.8 L1193.5 371.5 L1195.4 370.2 L1197.2 368.9 L1199.0 367.5 L1200.9 366.2 L1202.7 364.9 L1204.6 363.6 L1206.4 362.3 L1208.2 361.0 L1210.1 359.7 L1211.9 358.4 L1213.8 357.1 L1215.6 355.8 L1217.4 354.5 L1219.3 353.2 L1221.1 351.9 L1223.0 350.6 L1224.8 349.4 L1226.6 348.1 L1228.5 346.8 L1230.3 345.5 L1232.2 344.2 L1234.0 342.9 L1235.8 341.7 L1237.7 340.4 L1239.5 339.1 L1241.4 337.8 L1243.2 336.6 L1245.0 335.3 L1246.9 334.0 L1248.7 332.7 L1250.6 331.5 L1252.4 330.2 L1254.2 328.9 L1256.1 327.7 L1257.9 326.4 L1259.8 325.2 L1261.6 323.9 L1263.5 322.6 L1265.3 321.4 L1267.1 320.1 L1269.0 318.9 L1270.8 317.6 L1272.7 316.4 L1274.5 315.1 L1276.3 313.9 L1278.2 312.6 L1280.0 311.4 L1281.9 310.1 L1283.7 308.9 L1285.5 307.7 L1287.4 306.4 L1289.2 305.2 L1291.1 304.0 L1292.9 302.7 L1294.7 301.5 L1296.6 300.2 L1298.4 299.0 L1300.3 297.8 L1302.1 296.6 L1303.9 295.3 L1305.7 294.1" fill="none" stroke="#808080" stroke-width="1.65" stroke-dasharray="1.65 2.72"/>
<path d="M1357.9 259.9 L1359.1 259.1 L1361.0 257.9 L1362.8 256.7 L1364.7 255.5 L1366.5 254.4 L1368.3 253.2 L1370.2 252.0 L1372.0 250.8 L1373.9 249.6 L1375.7 248.4 L1377.5 247.3 L1379.4 246.1 L1381.2 244.9 L1383.1 243.7 L1384.9 242.6 L1386.7 241.4 L1388.6 240.2 L1390.4 239.1 L1392.3 237.9 L1394.1 236.7 L1396.0 235.5 L1397.8 234.4 L1399.6 233.2 L1401.5 232.1 L1403.3 230.9 L1405.2 229.7 L1407.0 228.6 L1408.8 227.4 L1410.7 226.3 L1412.5 225.1 L1414.4 223.9 L1416.2 222.8 L1418.0 221.6 L1419.9 220.5 L1421.7 219.3 L1423.6 218.2 L1425.4 217.0 L1427.2 215.9 L1429.1 214.7 L1430.9 213.6 L1432.8 212.4 L1434.6 211.3 L1436.4 210.2 L1438.3 209.0 L1440.1 207.9 L1442.0 206.7 L1443.8 205.6 L1445.6 204.5 L1447.5 203.3 L1449.3 202.2 L1451.2 201.0 L1453.0 199.9 L1454.8 198.8 L1456.7 197.6 L1458.5 196.5 L1460.4 195.4 L1462.2 194.3 L1464.0 193.1 L1465.9 192.0 L1467.7 190.9 L1469.6 189.8 L1471.4 188.6 L1473.2 187.5 L1475.1 186.4 L1476.9 185.3 L1478.8 184.1 L1480.6 183.0 L1482.4 181.9 L1484.3 180.8 L1486.1 179.7 L1488.0 178.6 L1489.8 177.4 L1491.6 176.3 L1493.5 175.2" fill="none" stroke="#808080" stroke-width="1.65" stroke-dasharray="1.65 2.72"/>
<path d="M1184.3 495.0 L1186.2 493.5 L1188.0 492.0 L1189.8 490.6 L1191.7 489.1 L1193.5 487.6 L1195.4 486.2 L1197.2 484.7 L1199.0 483.2 L1200.9 481.8 L1202.7 480.3 L1204.6 478.9 L1206.4 477.4 L1208.2 476.0 L1210.1 474.5 L1211.9 473.1 L1213.8 471.6 L1215.6 470.2 L1217.4 468.7 L1219.3 467.3 L1221.1 465.9 L1223.0 464.4 L1224.8 463.0 L1226.6 461.6 L1228.5 460.1 L1230.3 458.7 L1232.2 457.3 L1234.0 455.9 L1235.8 454.5 L1237.7 453.0 L1239.5 451.6 L1241.4 450.2 L1243.2 448.8 L1245.0 447.4 L1246.9 446.0 L1248.7 444.6 L1250.6 443.2 L1252.4 441.8 L1254.2 440.4 L1256.1 439.0 L1257.9 437.6 L1259.8 436.2 L1261.6 434.8 L1263.5 433.4 L1265.3 432.1 L1267.1 430.7 L1269.0 429.3 L1270.8 427.9 L1272.7 426.5 L1274.5 425.2 L1276.3 423.8 L1278.2 422.4 L1280.0 421.1 L1281.9 419.7 L1283.7 418.3 L1285.5 417.0 L1287.4 415.6 L1289.2 414.2 L1291.1 412.9 L1292.9 411.5 L1294.7 410.2 L1296.6 408.8 L1298.4 407.5 L1300.3 406.1 L1302.1 404.8 L1303.9 403.4 L1305.8 402.1 L1307.6 400.7 L1309.5 399.4 L1311.3 398.1 L1313.1 396.7 L1315.0 395.4 L1316.8 394.0 L1318.7 392.7 L1320.5 391.4 L1322.3 390.1 L1324.2 388.7 L1326.0 387.4 L1327.9 386.1 L1329.7 384.8 L1331.5 383.4 L1333.4 382.1 L1335.2 380.8 L1337.1 379.5 L1338.9 378.2 L1340.7 376.9 L1342.6 375.6 L1344.4 374.2 L1346.3 372.9 L1348.1 371.6 L1349.9 370.3 L1351.8 369.0 L1353.6 367.7 L1355.5 366.4 L1357.3 365.1 L1359.1 363.8 L1361.0 362.5 L1362.8 361.3 L1364.7 360.0 L1366.5 358.7 L1368.3 357.4 L1370.2 356.1 L1372.0 354.8 L1373.9 353.5 L1375.7 352.2 L1377.5 351.0 L1379.4 349.7 L1381.2 348.4 L1383.1 347.1 L1384.9 345.9 L1386.7 344.6 L1388.6 343.3 L1390.4 342.0 L1392.3 340.8 L1394.1 339.5 L1396.0 338.2 L1397.8 337.0 L1399.6 335.7 L1401.5 334.5 L1403.3 333.2 L1405.2 331.9 L1407.0 330.7 L1408.8 329.4 L1410.7 328.2 L1411.0 328.0" fill="none" stroke="#808080" stroke-width="1.65" stroke-dasharray="1.65 2.72"/>
<path d="M1462.8 293.2 L1464.0 292.4 L1465.9 291.2 L1467.7 290.0 L1469.6 288.8 L1471.4 287.6 L1473.2 286.4 L1475.1 285.1 L1476.9 283.9 L1478.8 282.7 L1480.6 281.5 L1482.4 280.3 L1484.3 279.1 L1486.1 277.9 L1488.0 276.7 L1489.8 275.5 L1491.6 274.3 L1493.5 273.1 L1495.3 271.9 L1497.2 270.8 L1499.0 269.6 L1500.8 268.4 L1502.7 267.2 L1504.5 266.0 L1506.4 264.8 L1508.2 263.6 L1510.0 262.4 L1511.9 261.3 L1513.7 260.1 L1515.6 258.9 L1517.4 257.7 L1519.2 256.5 L1521.1 255.4 L1522.9 254.2 L1524.8 253.0 L1526.6 251.8 L1528.5 250.7 L1530.3 249.5 L1532.1 248.3 L1534.0 247.1 L1535.8 246.0 L1537.7 244.8 L1539.5 243.6 L1541.3 242.5 L1543.2 241.3 L1545.0 240.1 L1546.9 239.0 L1548.7 237.8 L1550.5 236.7 L1552.4 235.5 L1554.2 234.4 L1556.1 233.2 L1557.9 232.0 L1559.7 230.9 L1561.6 229.7 L1563.4 228.6 L1565.3 227.4 L1567.1 226.3 L1568.9 225.1 L1570.8 224.0 L1572.6 222.8 L1574.5 221.7 L1576.3 220.5 L1578.1 219.4 L1580.0 218.3 L1581.8 217.1 L1583.7 216.0 L1585.5 214.8 L1587.3 213.7 L1589.2 212.6 L1591.0 211.4 L1592.9 210.3 L1594.7 209.2 L1596.5 208.0 L1598.4 206.9 L1600.2 205.8 L1602.1 204.6 L1603.9 203.5 L1605.7 202.4 L1607.6 201.2 L1609.4 200.1 L1611.3 199.0 L1613.1 197.9 L1614.9 196.7 L1616.8 195.6 L1618.6 194.5 L1620.5 193.4 L1622.3 192.3 L1624.1 191.1 L1626.0 190.0 L1627.8 188.9 L1629.7 187.8 L1631.5 186.7 L1633.3 185.6 L1635.2 184.5 L1637.0 183.3 L1638.9 182.2 L1640.7 181.1 L1642.5 180.0 L1644.4 178.9 L1646.2 177.8 L1648.1 176.7 L1649.9 175.6" fill="none" stroke="#808080" stroke-width="1.65" stroke-dasharray="1.65 2.72"/>
<path d="M1338.9 493.9 L1340.7 492.5 L1342.6 491.0 L1344.4 489.5 L1346.3 488.1 L1348.1 486.6 L1349.9 485.2 L1351.8 483.7 L1353.6 482.3 L1355.5 480.8 L1357.3 479.4 L1359.1 478.0 L1361.0 476.5 L1362.8 475.1 L1364.7 473.7 L1366.5 472.2 L1368.3 470.8 L1370.2 469.4 L1372.0 467.9 L1373.9 466.5 L1375.7 465.1 L1377.5 463.7 L1379.4 462.3 L1381.2 460.9 L1383.1 459.4 L1384.9 458.0 L1386.7 456.6 L1388.6 455.2 L1390.4 453.8 L1392.3 452.4 L1394.1 451.0 L1396.0 449.6 L1397.8 448.2 L1399.6 446.8 L1401.5 445.4 L1403.3 444.0 L1405.2 442.7 L1407.0 441.3 L1408.8 439.9 L1410.7 438.5 L1412.5 437.1 L1414.4 435.7 L1416.2 434.4 L1418.0 433.0 L1419.9 431.6 L1421.7 430.3 L1423.6 428.9 L1425.4 427.5 L1427.2 426.2 L1429.1 424.8 L1430.9 423.4 L1432.8 422.1 L1434.6 420.7 L1436.4 419.4 L1438.3 418.0 L1440.1 416.7 L1442.0 415.3 L1443.8 414.0 L1445.6 412.6 L1447.5 411.3 L1449.3 409.9 L1451.2 408.6 L1453.0 407.2 L1454.8 405.9 L1456.7 404.6 L1458.5 403.2 L1460.4 401.9 L1462.2 400.6 L1464.0 399.3 L1465.9 397.9 L1467.7 396.6 L1469.6 395.3 L1471.4 394.0 L1473.2 392.6 L1475.1 391.3 L1476.9 390.0 L1478.8 388.7 L1480.6 387.4 L1482.4 386.1 L1484.3 384.7 L1486.1 383.4 L1488.0 382.1 L1489.8 380.8 L1491.6 379.5 L1493.5 378.2 L1495.3 376.9 L1497.2 375.6 L1499.0 374.3 L1500.8 373.0 L1502.7 371.7 L1504.5 370.4 L1506.4 369.1 L1508.2 367.9 L1510.0 366.6 L1511.9 365.3 L1513.7 364.0 L1515.6 362.7 L1517.4 361.4 L1519.2 360.1 L1521.1 358.9 L1521.4 358.6" fill="none" stroke="#808080" stroke-width="1.65" stroke-dasharray="1.65 2.72"/>
<path d="M1573.0 323.4 L1574.5 322.4 L1576.3 321.2 L1578.1 319.9 L1580.0 318.7 L1581.8 317.5 L1583.7 316.2 L1585.5 315.0 L1587.3 313.8 L1589.2 312.6 L1591.0 311.3 L1592.9 310.1 L1594.7 308.9 L1596.5 307.7 L1598.4 306.4 L1600.2 305.2 L1602.1 304.0 L1603.9 302.8 L1605.7 301.6 L1607.6 300.4 L1609.4 299.1 L1611.3 297.9 L1613.1 296.7 L1614.9 295.5 L1616.8 294.3 L1618.6 293.1 L1620.5 291.9 L1622.3 290.7 L1624.1 289.5 L1626.0 288.3 L1627.8 287.1 L1629.7 285.9 L1631.5 284.7 L1633.3 283.5 L1635.2 282.3 L1637.0 281.1 L1638.9 279.9 L1640.7 278.7 L1642.5 277.5 L1644.4 276.3 L1646.2 275.1 L1648.1 274.0 L1649.9 272.8 L1651.8 271.6 L1653.6 270.4 L1655.4 269.2 L1657.3 268.0 L1659.1 266.9 L1661.0 265.7 L1662.8 264.5 L1664.6 263.3 L1666.5 262.2 L1668.3 261.0 L1670.2 259.8 L1672.0 258.6 L1673.8 257.5 L1675.7 256.3 L1677.5 255.1 L1679.4 254.0 L1681.2 252.8 L1683.0 251.6 L1684.9 250.5 L1686.7 249.3 L1688.6 248.1 L1690.4 247.0 L1692.2 245.8" fill="none" stroke="#808080" stroke-width="1.65" stroke-dasharray="1.65 2.72"/>
<path d="M1491.6 494.3 L1493.5 492.8 L1495.3 491.4 L1497.2 489.9 L1499.0 488.5 L1500.8 487.0 L1502.7 485.6 L1504.5 484.2 L1506.4 482.7 L1508.2 481.3 L1510.0 479.9 L1511.9 478.4 L1513.7 477.0 L1515.6 475.6 L1517.4 474.2 L1519.2 472.8 L1521.1 471.3 L1522.9 469.9 L1524.8 468.5 L1526.6 467.1 L1528.5 465.7 L1530.3 464.3 L1532.1 462.9 L1534.0 461.5 L1535.8 460.1 L1537.7 458.7 L1539.5 457.3 L1541.3 455.9 L1543.2 454.5 L1545.0 453.1 L1546.9 451.7 L1548.7 450.3 L1550.5 449.0 L1552.4 447.6 L1554.2 446.2 L1556.1 444.8 L1557.9 443.4 L1559.7 442.1 L1561.6 440.7 L1563.4 439.3 L1565.3 438.0 L1567.1 436.6 L1568.9 435.2 L1570.8 433.9 L1572.6 432.5 L1574.5 431.1 L1576.3 429.8 L1578.1 428.4 L1580.0 427.1 L1581.8 425.7 L1583.7 424.4 L1585.5 423.0 L1587.3 421.7 L1589.2 420.3 L1591.0 419.0 L1592.9 417.7 L1594.7 416.3 L1596.5 415.0 L1598.4 413.6 L1600.2 412.3 L1602.1 411.0 L1603.9 409.6 L1605.7 408.3 L1607.6 407.0 L1609.4 405.7 L1611.3 404.3 L1613.1 403.0 L1614.9 401.7 L1616.8 400.4 L1618.6 399.1 L1620.5 397.7 L1622.3 396.4 L1624.1 395.1 L1626.0 393.8 L1627.8 392.5 L1629.7 391.2 L1631.5 389.9 L1632.3 389.3" fill="none" stroke="#808080" stroke-width="1.65" stroke-dasharray="1.65 2.72"/>
<path d="M1683.5 353.6 L1684.9 352.7 L1686.7 351.4 L1688.6 350.2 L1690.4 348.9 L1692.2 347.7" fill="none" stroke="#808080" stroke-width="1.65" stroke-dasharray="1.65 2.72"/>
<text x="1169.90" y="238.00" font-size="32.20" letter-spacing="0.883" fill="#000" font-family="DejaVu Sans, Liberation Sans, sans-serif" >CSW</text>
<text x="1467.97" y="419.40" font-size="32.20" letter-spacing="1.101" fill="#000" font-family="DejaVu Sans, Liberation Sans, sans-serif" >SUWm</text>
<g transform="translate(996.4 191.1) rotate(-32.0)"><text x="-31.92" y="8.74" font-size="25.70" letter-spacing="0.500" fill="#808080" font-family="DejaVu Sans, Liberation Sans, sans-serif" >19.0</text></g>
<g transform="translate(1105.4 221.2) rotate(-32.4)"><text x="-31.46" y="8.74" font-size="25.70" letter-spacing="0.500" fill="#808080" font-family="DejaVu Sans, Liberation Sans, sans-serif" >20.0</text></g>
<g transform="translate(1216.0 250.7) rotate(-32.9)"><text x="-31.46" y="8.74" font-size="25.70" letter-spacing="0.500" fill="#808080" font-family="DejaVu Sans, Liberation Sans, sans-serif" >21.0</text></g>
<g transform="translate(1331.8 276.9) rotate(-33.3)"><text x="-33.36" y="8.74" font-size="25.70" letter-spacing="0.500" fill="#808080" font-family="DejaVu Sans, Liberation Sans, sans-serif" >22.0</text></g>
<g transform="translate(1436.9 310.5) rotate(-33.8)"><text x="-31.46" y="8.74" font-size="25.70" letter-spacing="0.500" fill="#808080" font-family="DejaVu Sans, Liberation Sans, sans-serif" >23.0</text></g>
<g transform="translate(1547.2 340.9) rotate(-34.3)"><text x="-33.36" y="8.74" font-size="25.70" letter-spacing="0.500" fill="#808080" font-family="DejaVu Sans, Liberation Sans, sans-serif" >24.0</text></g>
<g transform="translate(1657.9 371.3) rotate(-34.9)"><text x="-29.46" y="8.74" font-size="25.70" letter-spacing="0.500" fill="#808080" font-family="DejaVu Sans, Liberation Sans, sans-serif" >25.0</text></g>
</g>
<rect x="963.7" y="177.8" width="722.8" height="314.1" fill="none" stroke="#000" stroke-width="2.5"/>
<line x1="1055.5" x2="1055.5" y1="491.9" y2="503.4" stroke="#000" stroke-width="2.5"/>
<text x="1033.87" y="538.90" font-size="32.20" letter-spacing="0.650" fill="#000" font-family="DejaVu Sans, Liberation Sans, sans-serif" >32</text>
<line x1="1170.2" x2="1170.2" y1="491.9" y2="503.4" stroke="#000" stroke-width="2.5"/>
<text x="1148.27" y="538.90" font-size="32.20" letter-spacing="0.650" fill="#000" font-family="DejaVu Sans, Liberation Sans, sans-serif" >33</text>
<line x1="1284.9" x2="1284.9" y1="491.9" y2="503.4" stroke="#000" stroke-width="2.5"/>
<text x="1262.62" y="538.90" font-size="32.20" letter-spacing="0.650" fill="#000" font-family="DejaVu Sans, Liberation Sans, sans-serif" >34</text>
<line x1="1399.7" x2="1399.7" y1="491.9" y2="503.4" stroke="#000" stroke-width="2.5"/>
<text x="1377.86" y="538.90" font-size="32.20" letter-spacing="0.650" fill="#000" font-family="DejaVu Sans, Liberation Sans, sans-serif" >35</text>
<line x1="1514.4" x2="1514.4" y1="491.9" y2="503.4" stroke="#000" stroke-width="2.5"/>
<text x="1492.18" y="538.90" font-size="32.20" letter-spacing="0.650" fill="#000" font-family="DejaVu Sans, Liberation Sans, sans-serif" >36</text>
<line x1="1629.1" x2="1629.1" y1="491.9" y2="503.4" stroke="#000" stroke-width="2.5"/>
<text x="1607.29" y="538.90" font-size="32.20" letter-spacing="0.650" fill="#000" font-family="DejaVu Sans, Liberation Sans, sans-serif" >37</text>
<line x1="952.2" x2="963.7" y1="360.5" y2="360.5" stroke="#000" stroke-width="2.5"/>
<line x1="952.2" x2="963.7" y1="196.2" y2="196.2" stroke="#000" stroke-width="2.5"/>
<text x="1288.61" y="158.30" font-size="38.60" letter-spacing="0.416" fill="#000" font-family="DejaVu Sans, Liberation Sans, sans-serif" >July</text>
<text x="1033.79" y="596.00" font-size="38.60" letter-spacing="0.497" fill="#000" font-family="DejaVu Sans, Liberation Sans, sans-serif" >Absolute Salinity, SA [g Kg</text>
<text x="1561.54" y="581.80" font-size="27.00" letter-spacing="0.448" fill="#000" font-family="DejaVu Sans, Liberation Sans, sans-serif" >−1</text>
<text x="1603.32" y="596.00" font-size="38.60" letter-spacing="0.000" fill="#000" font-family="DejaVu Sans, Liberation Sans, sans-serif" >]</text>
<g clip-path="url(#c2)">
<circle cx="1821.1" cy="208.6" r="9.0" fill="#ad0000"/>
<circle cx="1827.6" cy="208.6" r="9.0" fill="#ed0400"/>
<circle cx="1831.9" cy="208.2" r="9.0" fill="#ff4300"/>
<circle cx="1835.0" cy="208.2" r="9.0" fill="#ff7e00"/>
<circle cx="1845.6" cy="207.4" r="9.0" fill="#ffbd00"/>
<circle cx="1857.8" cy="206.7" r="9.0" fill="#f4f802"/>
<circle cx="1869.4" cy="206.0" r="9.0" fill="#caff2c"/>
<circle cx="1887.4" cy="205.3" r="9.0" fill="#a4ff53"/>
<circle cx="1932.7" cy="206.0" r="9.0" fill="#7aff7d"/>
<circle cx="1955.8" cy="207.0" r="9.0" fill="#46ffb1"/>
<circle cx="1987.5" cy="207.7" r="9.0" fill="#0ff8e7"/>
<circle cx="2043.6" cy="208.2" r="9.0" fill="#00c8ff"/>
<circle cx="2081.8" cy="208.9" r="9.0" fill="#0088ff"/>
<circle cx="2109.9" cy="207.7" r="9.0" fill="#0035ff"/>
<circle cx="2110.6" cy="213.9" r="9.0" fill="#800000"/>
<circle cx="2212.1" cy="218.8" r="9.0" fill="#0045ff"/>
<circle cx="2224.6" cy="214.1" r="9.0" fill="#a40000"/>
<circle cx="2241.0" cy="222.5" r="9.0" fill="#0005ff"/>
<circle cx="2268.3" cy="221.7" r="9.0" fill="#a40000"/>
<circle cx="2260.5" cy="216.3" r="9.0" fill="#ff1300"/>
<circle cx="2277.3" cy="218.7" r="9.0" fill="#ff3400"/>
<circle cx="2281.5" cy="219.4" r="9.0" fill="#ff5200"/>
<circle cx="2285.3" cy="220.2" r="9.0" fill="#ff7300"/>
<circle cx="2288.8" cy="221.1" r="9.0" fill="#ff9400"/>
<circle cx="2293.1" cy="222.3" r="9.0" fill="#ffb600"/>
<circle cx="2295.8" cy="223.4" r="9.0" fill="#ffd300"/>
<circle cx="2298.1" cy="224.4" r="9.0" fill="#f8f500"/>
<circle cx="2299.0" cy="224.8" r="9.0" fill="#dbff1c"/>
<circle cx="2299.6" cy="225.2" r="9.0" fill="#beff39"/>
<circle cx="2300.2" cy="225.6" r="9.0" fill="#a4ff53"/>
<circle cx="2300.8" cy="226.0" r="9.0" fill="#87ff70"/>
<circle cx="2301.1" cy="226.2" r="9.0" fill="#6aff8d"/>
<circle cx="2301.3" cy="226.3" r="9.0" fill="#4dffaa"/>
<circle cx="2301.6" cy="226.5" r="9.0" fill="#33ffc4"/>
<circle cx="2301.8" cy="226.6" r="9.0" fill="#16ffe1"/>
<circle cx="2302.1" cy="226.7" r="9.0" fill="#00dcfe"/>
<circle cx="2302.4" cy="226.6" r="9.0" fill="#00b8ff"/>
<circle cx="2302.8" cy="226.5" r="9.0" fill="#0098ff"/>
<circle cx="2303.1" cy="226.5" r="9.0" fill="#0075ff"/>
<circle cx="2303.4" cy="226.4" r="9.0" fill="#0050ff"/>
<circle cx="2303.9" cy="226.3" r="9.0" fill="#002dff"/>
<circle cx="2304.4" cy="226.1" r="9.0" fill="#000dff"/>
<circle cx="2305.0" cy="225.9" r="9.0" fill="#0000f6"/>
<circle cx="2305.5" cy="225.7" r="9.0" fill="#0000cd"/>
<circle cx="2308.1" cy="224.1" r="9.0" fill="#0000a4"/>
<circle cx="2314.6" cy="224.2" r="9.0" fill="#000080"/>
<circle cx="2316.4" cy="227.8" r="9.0" fill="#000080"/>
<circle cx="2319.4" cy="232.0" r="9.0" fill="#000080"/>
<circle cx="2399.0" cy="254.3" r="9.0" fill="#c80000"/>
<circle cx="2375.5" cy="242.6" r="9.0" fill="#c80000"/>
<circle cx="2376.4" cy="245.0" r="9.0" fill="#ff1a00"/>
<circle cx="2377.2" cy="247.3" r="9.0" fill="#ff4e00"/>
<circle cx="2378.1" cy="249.7" r="9.0" fill="#ff8200"/>
<circle cx="2378.9" cy="252.0" r="9.0" fill="#ffb600"/>
<circle cx="2379.8" cy="254.4" r="9.0" fill="#ffea00"/>
<circle cx="2382.0" cy="256.9" r="9.0" fill="#d1ff26"/>
<circle cx="2384.8" cy="259.6" r="9.0" fill="#a4ff53"/>
<circle cx="2387.2" cy="262.3" r="9.0" fill="#77ff80"/>
<circle cx="2389.1" cy="265.0" r="9.0" fill="#49ffad"/>
<circle cx="2391.1" cy="267.7" r="9.0" fill="#1cffdb"/>
<circle cx="2392.9" cy="269.9" r="9.0" fill="#00d0ff"/>
<circle cx="2394.7" cy="272.1" r="9.0" fill="#0098ff"/>
<circle cx="2396.5" cy="274.3" r="9.0" fill="#0060ff"/>
<circle cx="2397.8" cy="276.1" r="9.0" fill="#0028ff"/>
<circle cx="2398.4" cy="277.4" r="9.0" fill="#0000ff"/>
<circle cx="2399.1" cy="278.8" r="9.0" fill="#0000bf"/>
<circle cx="2399.8" cy="280.1" r="9.0" fill="#000080"/>
<circle cx="2384.1" cy="245.7" r="9.0" fill="#000080"/>
<circle cx="2406.8" cy="269.2" r="9.0" fill="#ff2500"/>
<circle cx="2408.2" cy="270.1" r="9.0" fill="#ff7e00"/>
<circle cx="2409.6" cy="271.1" r="9.0" fill="#ffdb00"/>
<circle cx="2411.0" cy="272.0" r="9.0" fill="#beff39"/>
<circle cx="2411.9" cy="273.7" r="9.0" fill="#6dff8a"/>
<circle cx="2412.4" cy="275.7" r="9.0" fill="#1fffd7"/>
<circle cx="2413.0" cy="277.8" r="9.0" fill="#00a8ff"/>
<circle cx="2413.5" cy="279.9" r="9.0" fill="#0045ff"/>
<circle cx="2414.1" cy="281.9" r="9.0" fill="#0000ed"/>
<circle cx="2414.6" cy="284.0" r="9.0" fill="#000080"/>
<circle cx="2366.9" cy="276.2" r="9.0" fill="#ed0400"/>
<circle cx="2368.0" cy="277.0" r="9.0" fill="#ff6400"/>
<circle cx="2369.0" cy="277.8" r="9.0" fill="#ffc400"/>
<circle cx="2370.1" cy="278.6" r="9.0" fill="#d1ff26"/>
<circle cx="2371.4" cy="279.5" r="9.0" fill="#7dff7a"/>
<circle cx="2372.7" cy="280.4" r="9.0" fill="#29ffce"/>
<circle cx="2374.0" cy="281.3" r="9.0" fill="#00b4ff"/>
<circle cx="2375.3" cy="282.2" r="9.0" fill="#004dff"/>
<circle cx="2376.6" cy="283.1" r="9.0" fill="#0000f1"/>
<circle cx="2377.9" cy="284.0" r="9.0" fill="#000080"/>
<path d="M2094.5 261.9 L2266.6 261.9 L2266.6 196.2 L2094.5 196.2 Z" stroke="#000" stroke-width="3.5" stroke-dasharray="3.4 5.37" fill="none"/>
<path d="M2392.8 459.0 L2494.4 459.0 M2494.4 393.3 L2392.8 393.3 L2392.8 459.0" stroke="#000" stroke-width="3.5" stroke-dasharray="3.4 5.37" fill="none"/>
<path d="M1767.6 215.3 L1769.4 214.1 L1771.2 212.9 L1773.1 211.8 L1774.9 210.6 L1776.8 209.4 L1778.6 208.3 L1779.5 207.7" fill="none" stroke="#808080" stroke-width="1.65" stroke-dasharray="1.65 2.72"/>
<path d="M1767.6 318.9 L1769.4 317.6 L1771.2 316.3 L1773.1 315.0 L1774.9 313.8 L1776.8 312.5 L1778.6 311.2 L1780.4 310.0 L1782.3 308.7 L1784.1 307.5 L1786.0 306.2 L1787.8 304.9 L1789.6 303.7 L1791.5 302.4 L1793.3 301.2 L1795.2 299.9 L1797.0 298.7 L1798.8 297.4 L1800.7 296.2 L1802.5 294.9 L1804.4 293.7 L1806.2 292.5 L1808.0 291.2 L1809.9 290.0 L1811.7 288.7 L1813.6 287.5 L1815.4 286.3 L1817.3 285.0 L1819.1 283.8 L1820.9 282.6 L1822.8 281.3 L1824.6 280.1 L1826.5 278.9 L1828.3 277.6 L1830.1 276.4 L1832.0 275.2 L1833.8 274.0 L1835.7 272.7 L1837.5 271.5 L1839.3 270.3 L1841.2 269.1 L1843.0 267.9 L1844.9 266.6 L1846.7 265.4 L1848.5 264.2 L1850.4 263.0 L1852.2 261.8 L1854.1 260.6 L1855.9 259.4 L1857.7 258.2 L1859.6 257.0 L1861.4 255.8 L1863.3 254.6 L1865.1 253.4 L1866.9 252.2 L1868.8 251.0 L1870.6 249.8 L1872.5 248.6 L1874.3 247.4 L1876.1 246.2 L1878.0 245.0 L1879.8 243.8 L1881.7 242.6 L1883.5 241.4 L1885.3 240.2 L1887.2 239.0 L1888.7 238.1" fill="none" stroke="#808080" stroke-width="1.65" stroke-dasharray="1.65 2.72"/>
<path d="M1941.3 204.6 L1942.4 204.0 L1944.2 202.8 L1946.1 201.6 L1947.9 200.5 L1949.8 199.3 L1951.6 198.2 L1953.4 197.1 L1955.3 195.9 L1957.1 194.8 L1959.0 193.6 L1960.8 192.5 L1962.6 191.3 L1964.5 190.2 L1966.3 189.1 L1968.2 187.9 L1970.0 186.8 L1971.8 185.6 L1973.7 184.5 L1975.5 183.4 L1977.4 182.2 L1979.2 181.1 L1981.0 180.0 L1982.9 178.8 L1984.7 177.7 L1986.6 176.6 L1988.4 175.5" fill="none" stroke="#808080" stroke-width="1.65" stroke-dasharray="1.65 2.72"/>
<path d="M1767.6 431.4 L1769.4 430.0 L1771.2 428.6 L1773.1 427.2 L1774.9 425.8 L1776.8 424.4 L1778.6 423.0 L1780.4 421.6 L1782.3 420.2 L1784.1 418.8 L1786.0 417.4 L1787.8 416.0 L1789.6 414.6 L1791.5 413.2 L1793.3 411.9 L1795.2 410.5 L1797.0 409.1 L1798.8 407.7 L1800.7 406.4 L1802.5 405.0 L1804.4 403.6 L1806.2 402.2 L1808.0 400.9 L1809.9 399.5 L1811.7 398.2 L1813.6 396.8 L1815.4 395.4 L1817.3 394.1 L1819.1 392.7 L1820.9 391.4 L1822.8 390.0 L1824.6 388.7 L1826.5 387.3 L1828.3 386.0 L1830.1 384.6 L1832.0 383.3 L1833.8 381.9 L1835.7 380.6 L1837.5 379.3 L1839.3 377.9 L1841.2 376.6 L1843.0 375.3 L1844.9 373.9 L1846.7 372.6 L1848.5 371.3 L1850.4 370.0 L1852.2 368.6 L1854.1 367.3 L1855.9 366.0 L1857.7 364.7 L1859.6 363.4 L1861.4 362.0 L1863.3 360.7 L1865.1 359.4 L1866.9 358.1 L1868.8 356.8 L1870.6 355.5 L1872.5 354.2 L1874.3 352.9 L1876.1 351.6 L1878.0 350.3 L1879.8 349.0 L1881.7 347.7 L1883.5 346.4 L1885.3 345.1 L1887.2 343.8 L1889.0 342.5 L1890.9 341.2 L1892.7 339.9 L1894.5 338.6 L1896.4 337.4 L1898.2 336.1 L1900.1 334.8 L1901.9 333.5 L1903.7 332.2 L1905.6 331.0 L1907.4 329.7 L1909.3 328.4 L1911.1 327.1 L1912.9 325.9 L1914.8 324.6 L1916.6 323.3 L1918.5 322.1 L1920.3 320.8 L1922.1 319.5 L1924.0 318.3 L1925.8 317.0 L1927.7 315.7 L1929.5 314.5 L1931.3 313.2 L1933.2 312.0 L1935.0 310.7 L1936.9 309.5 L1938.7 308.2 L1940.6 307.0 L1942.4 305.7 L1944.2 304.5 L1946.1 303.2 L1947.9 302.0 L1949.8 300.7 L1951.6 299.5 L1953.4 298.3 L1955.3 297.0 L1957.1 295.8 L1959.0 294.5 L1960.8 293.3 L1962.6 292.1 L1964.5 290.8 L1966.3 289.6 L1968.2 288.4 L1970.0 287.2 L1971.8 285.9 L1973.7 284.7 L1975.5 283.5 L1977.4 282.3 L1979.2 281.0 L1981.0 279.8 L1982.9 278.6 L1984.7 277.4 L1986.6 276.2 L1988.4 274.9 L1990.2 273.7 L1992.1 272.5 L1993.9 271.3 L1995.8 270.1 L1997.6 268.9 L1999.4 267.7" fill="none" stroke="#808080" stroke-width="1.65" stroke-dasharray="1.65 2.72"/>
<path d="M2051.8 233.8 L2052.8 233.2 L2054.6 232.0 L2056.5 230.9 L2058.3 229.7 L2060.2 228.5 L2062.0 227.3 L2063.8 226.2 L2065.7 225.0 L2067.5 223.9 L2069.4 222.7 L2071.2 221.5 L2073.1 220.4 L2074.9 219.2 L2076.7 218.0 L2078.6 216.9 L2080.4 215.7 L2082.3 214.6 L2084.1 213.4 L2085.9 212.3 L2087.8 211.1 L2089.6 210.0 L2091.5 208.8 L2093.3 207.7 L2095.1 206.5 L2097.0 205.4 L2098.8 204.2 L2100.7 203.1 L2102.5 201.9 L2104.3 200.8 L2106.2 199.7 L2108.0 198.5 L2109.9 197.4 L2111.7 196.2 L2113.5 195.1 L2115.4 194.0 L2117.2 192.8 L2119.1 191.7 L2120.9 190.6 L2122.7 189.4 L2124.6 188.3 L2126.4 187.2 L2128.3 186.0 L2130.1 184.9 L2131.9 183.8 L2133.8 182.7 L2135.6 181.5 L2137.5 180.4 L2139.3 179.3 L2141.1 178.2 L2143.0 177.0 L2144.8 175.9 L2146.7 174.8" fill="none" stroke="#808080" stroke-width="1.65" stroke-dasharray="1.65 2.72"/>
<path d="M1841.2 494.5 L1843.0 493.0 L1844.9 491.6 L1846.7 490.1 L1848.5 488.6 L1850.4 487.1 L1852.2 485.6 L1854.1 484.1 L1855.9 482.7 L1857.7 481.2 L1859.6 479.7 L1861.4 478.3 L1863.3 476.8 L1865.1 475.3 L1866.9 473.9 L1868.8 472.4 L1870.6 470.9 L1872.5 469.5 L1874.3 468.0 L1876.1 466.6 L1878.0 465.1 L1879.8 463.7 L1881.7 462.3 L1883.5 460.8 L1885.3 459.4 L1887.2 457.9 L1889.0 456.5 L1890.9 455.1 L1892.7 453.6 L1894.5 452.2 L1896.4 450.8 L1898.2 449.4 L1900.1 447.9 L1901.9 446.5 L1903.7 445.1 L1905.6 443.7 L1907.4 442.3 L1909.3 440.9 L1911.1 439.5 L1912.9 438.1 L1914.8 436.7 L1916.6 435.3 L1918.5 433.9 L1920.3 432.5 L1922.1 431.1 L1924.0 429.7 L1925.8 428.3 L1927.7 426.9 L1929.5 425.5 L1931.3 424.1 L1933.2 422.7 L1935.0 421.3 L1936.9 420.0 L1938.7 418.6 L1940.6 417.2 L1942.4 415.8 L1944.2 414.5 L1946.1 413.1 L1947.9 411.7 L1949.8 410.3 L1951.6 409.0 L1953.4 407.6 L1955.3 406.3 L1957.1 404.9 L1959.0 403.5 L1960.8 402.2 L1962.6 400.8 L1964.5 399.5 L1966.3 398.1 L1968.2 396.8 L1970.0 395.4 L1971.8 394.1 L1973.7 392.7 L1975.5 391.4 L1977.4 390.1 L1979.2 388.7 L1981.0 387.4 L1982.9 386.1 L1984.7 384.7 L1986.6 383.4 L1988.4 382.1 L1990.2 380.7 L1992.1 379.4 L1993.9 378.1 L1995.8 376.8 L1997.6 375.4 L1999.4 374.1 L2001.3 372.8 L2003.1 371.5 L2005.0 370.2 L2006.8 368.9 L2008.6 367.5 L2010.5 366.2 L2012.3 364.9 L2014.2 363.6 L2016.0 362.3 L2017.8 361.0 L2019.7 359.7 L2021.5 358.4 L2023.4 357.1 L2025.2 355.8 L2027.0 354.5 L2028.9 353.2 L2030.7 351.9 L2032.6 350.6 L2034.4 349.4 L2036.2 348.1 L2038.1 346.8 L2039.9 345.5 L2041.8 344.2 L2043.6 342.9 L2045.4 341.7 L2047.3 340.4 L2049.1 339.1 L2051.0 337.8 L2052.8 336.6 L2054.6 335.3 L2056.5 334.0 L2058.3 332.7 L2060.2 331.5 L2062.0 330.2 L2063.8 328.9 L2065.7 327.7 L2067.5 326.4 L2069.4 325.2 L2071.2 323.9 L2073.1 322.6 L2074.9 321.4 L2076.7 320.1 L2078.6 318.9 L2080.4 317.6 L2082.3 316.4 L2084.1 315.1 L2085.9 313.9 L2087.8 312.6 L2089.6 311.4 L2091.5 310.1 L2093.3 308.9 L2095.1 307.7 L2097.0 306.4 L2098.8 305.2 L2100.7 304.0 L2102.5 302.7 L2104.3 301.5 L2106.2 300.2 L2108.0 299.0 L2109.9 297.8 L2111.7 296.6 L2113.5 295.3 L2115.3 294.1" fill="none" stroke="#808080" stroke-width="1.65" stroke-dasharray="1.65 2.72"/>
<path d="M2167.5 259.9 L2168.7 259.1 L2170.6 257.9 L2172.4 256.7 L2174.3 255.5 L2176.1 254.4 L2177.9 253.2 L2179.8 252.0 L2181.6 250.8 L2183.5 249.6 L2185.3 248.4 L2187.1 247.3 L2189.0 246.1 L2190.8 244.9 L2192.7 243.7 L2194.5 242.6 L2196.3 241.4 L2198.2 240.2 L2200.0 239.1 L2201.9 237.9 L2203.7 236.7 L2205.6 235.5 L2207.4 234.4 L2209.2 233.2 L2211.1 232.1 L2212.9 230.9 L2214.8 229.7 L2216.6 228.6 L2218.4 227.4 L2220.3 226.3 L2222.1 225.1 L2224.0 223.9 L2225.8 222.8 L2227.6 221.6 L2229.5 220.5 L2231.3 219.3 L2233.2 218.2 L2235.0 217.0 L2236.8 215.9 L2238.7 214.7 L2240.5 213.6 L2242.4 212.4 L2244.2 211.3 L2246.0 210.2 L2247.9 209.0 L2249.7 207.9 L2251.6 206.7 L2253.4 205.6 L2255.2 204.5 L2257.1 203.3 L2258.9 202.2 L2260.8 201.0 L2262.6 199.9 L2264.4 198.8 L2266.3 197.6 L2268.1 196.5 L2270.0 195.4 L2271.8 194.3 L2273.6 193.1 L2275.5 192.0 L2277.3 190.9 L2279.2 189.8 L2281.0 188.6 L2282.8 187.5 L2284.7 186.4 L2286.5 185.3 L2288.4 184.1 L2290.2 183.0 L2292.0 181.9 L2293.9 180.8 L2295.7 179.7 L2297.6 178.6 L2299.4 177.4 L2301.2 176.3 L2303.1 175.2" fill="none" stroke="#808080" stroke-width="1.65" stroke-dasharray="1.65 2.72"/>
<path d="M1993.9 495.0 L1995.8 493.5 L1997.6 492.0 L1999.4 490.6 L2001.3 489.1 L2003.1 487.6 L2005.0 486.2 L2006.8 484.7 L2008.6 483.2 L2010.5 481.8 L2012.3 480.3 L2014.2 478.9 L2016.0 477.4 L2017.8 476.0 L2019.7 474.5 L2021.5 473.1 L2023.4 471.6 L2025.2 470.2 L2027.0 468.7 L2028.9 467.3 L2030.7 465.9 L2032.6 464.4 L2034.4 463.0 L2036.2 461.6 L2038.1 460.1 L2039.9 458.7 L2041.8 457.3 L2043.6 455.9 L2045.4 454.5 L2047.3 453.0 L2049.1 451.6 L2051.0 450.2 L2052.8 448.8 L2054.6 447.4 L2056.5 446.0 L2058.3 444.6 L2060.2 443.2 L2062.0 441.8 L2063.8 440.4 L2065.7 439.0 L2067.5 437.6 L2069.4 436.2 L2071.2 434.8 L2073.1 433.4 L2074.9 432.1 L2076.7 430.7 L2078.6 429.3 L2080.4 427.9 L2082.3 426.5 L2084.1 425.2 L2085.9 423.8 L2087.8 422.4 L2089.6 421.1 L2091.5 419.7 L2093.3 418.3 L2095.1 417.0 L2097.0 415.6 L2098.8 414.2 L2100.7 412.9 L2102.5 411.5 L2104.3 410.2 L2106.2 408.8 L2108.0 407.5 L2109.9 406.1 L2111.7 404.8 L2113.5 403.4 L2115.4 402.1 L2117.2 400.7 L2119.1 399.4 L2120.9 398.1 L2122.7 396.7 L2124.6 395.4 L2126.4 394.0 L2128.3 392.7 L2130.1 391.4 L2131.9 390.1 L2133.8 388.7 L2135.6 387.4 L2137.5 386.1 L2139.3 384.8 L2141.1 383.4 L2143.0 382.1 L2144.8 380.8 L2146.7 379.5 L2148.5 378.2 L2150.3 376.9 L2152.2 375.6 L2154.0 374.2 L2155.9 372.9 L2157.7 371.6 L2159.5 370.3 L2161.4 369.0 L2163.2 367.7 L2165.1 366.4 L2166.9 365.1 L2168.7 363.8 L2170.6 362.5 L2172.4 361.3 L2174.3 360.0 L2176.1 358.7 L2177.9 357.4 L2179.8 356.1 L2181.6 354.8 L2183.5 353.5 L2185.3 352.2 L2187.1 351.0 L2189.0 349.7 L2190.8 348.4 L2192.7 347.1 L2194.5 345.9 L2196.3 344.6 L2198.2 343.3 L2200.0 342.0 L2201.9 340.8 L2203.7 339.5 L2205.6 338.2 L2207.4 337.0 L2209.2 335.7 L2211.1 334.5 L2212.9 333.2 L2214.8 331.9 L2216.6 330.7 L2218.4 329.4 L2220.3 328.2 L2220.6 328.0" fill="none" stroke="#808080" stroke-width="1.65" stroke-dasharray="1.65 2.72"/>
<path d="M2272.4 293.2 L2273.6 292.4 L2275.5 291.2 L2277.3 290.0 L2279.2 288.8 L2281.0 287.6 L2282.8 286.4 L2284.7 285.1 L2286.5 283.9 L2288.4 282.7 L2290.2 281.5 L2292.0 280.3 L2293.9 279.1 L2295.7 277.9 L2297.6 276.7 L2299.4 275.5 L2301.2 274.3 L2303.1 273.1 L2304.9 271.9 L2306.8 270.8 L2308.6 269.6 L2310.4 268.4 L2312.3 267.2 L2314.1 266.0 L2316.0 264.8 L2317.8 263.6 L2319.6 262.4 L2321.5 261.3 L2323.3 260.1 L2325.2 258.9 L2327.0 257.7 L2328.8 256.5 L2330.7 255.4 L2332.5 254.2 L2334.4 253.0 L2336.2 251.8 L2338.1 250.7 L2339.9 249.5 L2341.7 248.3 L2343.6 247.1 L2345.4 246.0 L2347.3 244.8 L2349.1 243.6 L2350.9 242.5 L2352.8 241.3 L2354.6 240.1 L2356.5 239.0 L2358.3 237.8 L2360.1 236.7 L2362.0 235.5 L2363.8 234.4 L2365.7 233.2 L2367.5 232.0 L2369.3 230.9 L2371.2 229.7 L2373.0 228.6 L2374.9 227.4 L2376.7 226.3 L2378.5 225.1 L2380.4 224.0 L2382.2 222.8 L2384.1 221.7 L2385.9 220.5 L2387.7 219.4 L2389.6 218.3 L2391.4 217.1 L2393.3 216.0 L2395.1 214.8 L2396.9 213.7 L2398.8 212.6 L2400.6 211.4 L2402.5 210.3 L2404.3 209.2 L2406.1 208.0 L2408.0 206.9 L2409.8 205.8 L2411.7 204.6 L2413.5 203.5 L2415.3 202.4 L2417.2 201.2 L2419.0 200.1 L2420.9 199.0 L2422.7 197.9 L2424.5 196.7 L2426.4 195.6 L2428.2 194.5 L2430.1 193.4 L2431.9 192.3 L2433.7 191.1 L2435.6 190.0 L2437.4 188.9 L2439.3 187.8 L2441.1 186.7 L2442.9 185.6 L2444.8 184.5 L2446.6 183.3 L2448.5 182.2 L2450.3 181.1 L2452.1 180.0 L2454.0 178.9 L2455.8 177.8 L2457.7 176.7 L2459.5 175.6" fill="none" stroke="#808080" stroke-width="1.65" stroke-dasharray="1.65 2.72"/>
<path d="M2148.5 493.9 L2150.3 492.5 L2152.2 491.0 L2154.0 489.5 L2155.9 488.1 L2157.7 486.6 L2159.5 485.2 L2161.4 483.7 L2163.2 482.3 L2165.1 480.8 L2166.9 479.4 L2168.7 478.0 L2170.6 476.5 L2172.4 475.1 L2174.3 473.7 L2176.1 472.2 L2177.9 470.8 L2179.8 469.4 L2181.6 467.9 L2183.5 466.5 L2185.3 465.1 L2187.1 463.7 L2189.0 462.3 L2190.8 460.9 L2192.7 459.4 L2194.5 458.0 L2196.3 456.6 L2198.2 455.2 L2200.0 453.8 L2201.9 452.4 L2203.7 451.0 L2205.6 449.6 L2207.4 448.2 L2209.2 446.8 L2211.1 445.4 L2212.9 444.0 L2214.8 442.7 L2216.6 441.3 L2218.4 439.9 L2220.3 438.5 L2222.1 437.1 L2224.0 435.7 L2225.8 434.4 L2227.6 433.0 L2229.5 431.6 L2231.3 430.3 L2233.2 428.9 L2235.0 427.5 L2236.8 426.2 L2238.7 424.8 L2240.5 423.4 L2242.4 422.1 L2244.2 420.7 L2246.0 419.4 L2247.9 418.0 L2249.7 416.7 L2251.6 415.3 L2253.4 414.0 L2255.2 412.6 L2257.1 411.3 L2258.9 409.9 L2260.8 408.6 L2262.6 407.2 L2264.4 405.9 L2266.3 404.6 L2268.1 403.2 L2270.0 401.9 L2271.8 400.6 L2273.6 399.3 L2275.5 397.9 L2277.3 396.6 L2279.2 395.3 L2281.0 394.0 L2282.8 392.6 L2284.7 391.3 L2286.5 390.0 L2288.4 388.7 L2290.2 387.4 L2292.0 386.1 L2293.9 384.7 L2295.7 383.4 L2297.6 382.1 L2299.4 380.8 L2301.2 379.5 L2303.1 378.2 L2304.9 376.9 L2306.8 375.6 L2308.6 374.3 L2310.4 373.0 L2312.3 371.7 L2314.1 370.4 L2316.0 369.1 L2317.8 367.9 L2319.6 366.6 L2321.5 365.3 L2323.3 364.0 L2325.2 362.7 L2327.0 361.4 L2328.8 360.1 L2330.7 358.9 L2331.0 358.6" fill="none" stroke="#808080" stroke-width="1.65" stroke-dasharray="1.65 2.72"/>
<path d="M2382.6 323.4 L2384.1 322.4 L2385.9 321.2 L2387.7 319.9 L2389.6 318.7 L2391.4 317.5 L2393.3 316.2 L2395.1 315.0 L2396.9 313.8 L2398.8 312.6 L2400.6 311.3 L2402.5 310.1 L2404.3 308.9 L2406.1 307.7 L2408.0 306.4 L2409.8 305.2 L2411.7 304.0 L2413.5 302.8 L2415.3 301.6 L2417.2 300.4 L2419.0 299.1 L2420.9 297.9 L2422.7 296.7 L2424.5 295.5 L2426.4 294.3 L2428.2 293.1 L2430.1 291.9 L2431.9 290.7 L2433.7 289.5 L2435.6 288.3 L2437.4 287.1 L2439.3 285.9 L2441.1 284.7 L2442.9 283.5 L2444.8 282.3 L2446.6 281.1 L2448.5 279.9 L2450.3 278.7 L2452.1 277.5 L2454.0 276.3 L2455.8 275.1 L2457.7 274.0 L2459.5 272.8 L2461.4 271.6 L2463.2 270.4 L2465.0 269.2 L2466.9 268.0 L2468.7 266.9 L2470.6 265.7 L2472.4 264.5 L2474.2 263.3 L2476.1 262.2 L2477.9 261.0 L2479.8 259.8 L2481.6 258.6 L2483.4 257.5 L2485.3 256.3 L2487.1 255.1 L2489.0 254.0 L2490.8 252.8 L2492.6 251.6 L2494.5 250.5 L2496.3 249.3 L2498.2 248.1 L2500.0 247.0 L2501.8 245.8" fill="none" stroke="#808080" stroke-width="1.65" stroke-dasharray="1.65 2.72"/>
<path d="M2301.2 494.3 L2303.1 492.8 L2304.9 491.4 L2306.8 489.9 L2308.6 488.5 L2310.4 487.0 L2312.3 485.6 L2314.1 484.2 L2316.0 482.7 L2317.8 481.3 L2319.6 479.9 L2321.5 478.4 L2323.3 477.0 L2325.2 475.6 L2327.0 474.2 L2328.8 472.8 L2330.7 471.3 L2332.5 469.9 L2334.4 468.5 L2336.2 467.1 L2338.1 465.7 L2339.9 464.3 L2341.7 462.9 L2343.6 461.5 L2345.4 460.1 L2347.3 458.7 L2349.1 457.3 L2350.9 455.9 L2352.8 454.5 L2354.6 453.1 L2356.5 451.7 L2358.3 450.3 L2360.1 449.0 L2362.0 447.6 L2363.8 446.2 L2365.7 444.8 L2367.5 443.4 L2369.3 442.1 L2371.2 440.7 L2373.0 439.3 L2374.9 438.0 L2376.7 436.6 L2378.5 435.2 L2380.4 433.9 L2382.2 432.5 L2384.1 431.1 L2385.9 429.8 L2387.7 428.4 L2389.6 427.1 L2391.4 425.7 L2393.3 424.4 L2395.1 423.0 L2396.9 421.7 L2398.8 420.3 L2400.6 419.0 L2402.5 417.7 L2404.3 416.3 L2406.1 415.0 L2408.0 413.6 L2409.8 412.3 L2411.7 411.0 L2413.5 409.6 L2415.3 408.3 L2417.2 407.0 L2419.0 405.7 L2420.9 404.3 L2422.7 403.0 L2424.5 401.7 L2426.4 400.4 L2428.2 399.1 L2430.1 397.7 L2431.9 396.4 L2433.7 395.1 L2435.6 393.8 L2437.4 392.5 L2439.3 391.2 L2441.1 389.9 L2441.9 389.3" fill="none" stroke="#808080" stroke-width="1.65" stroke-dasharray="1.65 2.72"/>
<path d="M2493.1 353.6 L2494.5 352.7 L2496.3 351.4 L2498.2 350.2 L2500.0 348.9 L2501.8 347.7" fill="none" stroke="#808080" stroke-width="1.65" stroke-dasharray="1.65 2.72"/>
<text x="1979.50" y="238.00" font-size="32.20" letter-spacing="0.883" fill="#000" font-family="DejaVu Sans, Liberation Sans, sans-serif" >CSW</text>
<text x="2277.57" y="419.40" font-size="32.20" letter-spacing="1.101" fill="#000" font-family="DejaVu Sans, Liberation Sans, sans-serif" >SUWm</text>
<g transform="translate(1806.0 191.1) rotate(-32.0)"><text x="-31.92" y="8.74" font-size="25.70" letter-spacing="0.500" fill="#808080" font-family="DejaVu Sans, Liberation Sans, sans-serif" >19.0</text></g>
<g transform="translate(1915.0 221.2) rotate(-32.4)"><text x="-31.46" y="8.74" font-size="25.70" letter-spacing="0.500" fill="#808080" font-family="DejaVu Sans, Liberation Sans, sans-serif" >20.0</text></g>
<g transform="translate(2025.6 250.7) rotate(-32.9)"><text x="-31.46" y="8.74" font-size="25.70" letter-spacing="0.500" fill="#808080" font-family="DejaVu Sans, Liberation Sans, sans-serif" >21.0</text></g>
<g transform="translate(2141.4 276.9) rotate(-33.3)"><text x="-33.36" y="8.74" font-size="25.70" letter-spacing="0.500" fill="#808080" font-family="DejaVu Sans, Liberation Sans, sans-serif" >22.0</text></g>
<g transform="translate(2246.5 310.5) rotate(-33.8)"><text x="-31.46" y="8.74" font-size="25.70" letter-spacing="0.500" fill="#808080" font-family="DejaVu Sans, Liberation Sans, sans-serif" >23.0</text></g>
<g transform="translate(2356.8 340.9) rotate(-34.3)"><text x="-33.36" y="8.74" font-size="25.70" letter-spacing="0.500" fill="#808080" font-family="DejaVu Sans, Liberation Sans, sans-serif" >24.0</text></g>
<g transform="translate(2467.5 371.3) rotate(-34.9)"><text x="-29.46" y="8.74" font-size="25.70" letter-spacing="0.500" fill="#808080" font-family="DejaVu Sans, Liberation Sans, sans-serif" >25.0</text></g>
</g>
<rect x="1773.3" y="177.8" width="722.8" height="314.1" fill="none" stroke="#000" stroke-width="2.5"/>
<line x1="1865.1" x2="1865.1" y1="491.9" y2="503.4" stroke="#000" stroke-width="2.5"/>
<text x="1843.47" y="538.90" font-size="32.20" letter-spacing="0.650" fill="#000" font-family="DejaVu Sans, Liberation Sans, sans-serif" >32</text>
<line x1="1979.8" x2="1979.8" y1="491.9" y2="503.4" stroke="#000" stroke-width="2.5"/>
<text x="1957.87" y="538.90" font-size="32.20" letter-spacing="0.650" fill="#000" font-family="DejaVu Sans, Liberation Sans, sans-serif" >33</text>
<line x1="2094.5" x2="2094.5" y1="491.9" y2="503.4" stroke="#000" stroke-width="2.5"/>
<text x="2072.22" y="538.90" font-size="32.20" letter-spacing="0.650" fill="#000" font-family="DejaVu Sans, Liberation Sans, sans-serif" >34</text>
<line x1="2209.3" x2="2209.3" y1="491.9" y2="503.4" stroke="#000" stroke-width="2.5"/>
<text x="2187.46" y="538.90" font-size="32.20" letter-spacing="0.650" fill="#000" font-family="DejaVu Sans, Liberation Sans, sans-serif" >35</text>
<line x1="2324.0" x2="2324.0" y1="491.9" y2="503.4" stroke="#000" stroke-width="2.5"/>
<text x="2301.78" y="538.90" font-size="32.20" letter-spacing="0.650" fill="#000" font-family="DejaVu Sans, Liberation Sans, sans-serif" >36</text>
<line x1="2438.7" x2="2438.7" y1="491.9" y2="503.4" stroke="#000" stroke-width="2.5"/>
<text x="2416.89" y="538.90" font-size="32.20" letter-spacing="0.650" fill="#000" font-family="DejaVu Sans, Liberation Sans, sans-serif" >37</text>
<line x1="1761.8" x2="1773.3" y1="360.5" y2="360.5" stroke="#000" stroke-width="2.5"/>
<line x1="1761.8" x2="1773.3" y1="196.2" y2="196.2" stroke="#000" stroke-width="2.5"/>
<text x="2054.74" y="158.30" font-size="38.60" letter-spacing="0.631" fill="#000" font-family="DejaVu Sans, Liberation Sans, sans-serif" >October</text>
<text x="1843.39" y="596.00" font-size="38.60" letter-spacing="0.497" fill="#000" font-family="DejaVu Sans, Liberation Sans, sans-serif" >Absolute Salinity, SA [g Kg</text>
<text x="2371.14" y="581.80" font-size="27.00" letter-spacing="0.448" fill="#000" font-family="DejaVu Sans, Liberation Sans, sans-serif" >−1</text>
<text x="2412.92" y="596.00" font-size="38.60" letter-spacing="0.000" fill="#000" font-family="DejaVu Sans, Liberation Sans, sans-serif" >]</text>
<g transform="translate(34.7 671.3) rotate(-90)"><text x="-2.16" y="0.00" font-size="38.60" letter-spacing="0.643" fill="#000" font-family="DejaVu Sans, Liberation Sans, sans-serif" >Conservative Temperature, Θ [°C]</text></g>
<rect x="596.7" y="672.1" width="1342.2" height="48.0" fill="url(#jet)" stroke="#000" stroke-width="2.5"/>
<line x1="769.9" x2="769.9" y1="720.1" y2="731.6" stroke="#000" stroke-width="2.5"/>
<text x="759.01" y="767.40" font-size="32.20" letter-spacing="0.650" fill="#000" font-family="DejaVu Sans, Liberation Sans, sans-serif" >5</text>
<line x1="986.4" x2="986.4" y1="720.1" y2="731.6" stroke="#000" stroke-width="2.5"/>
<text x="964.06" y="767.40" font-size="32.20" letter-spacing="0.650" fill="#000" font-family="DejaVu Sans, Liberation Sans, sans-serif" >10</text>
<line x1="1202.9" x2="1202.9" y1="720.1" y2="731.6" stroke="#000" stroke-width="2.5"/>
<text x="1180.90" y="767.40" font-size="32.20" letter-spacing="0.650" fill="#000" font-family="DejaVu Sans, Liberation Sans, sans-serif" >15</text>
<line x1="1419.3" x2="1419.3" y1="720.1" y2="731.6" stroke="#000" stroke-width="2.5"/>
<text x="1397.61" y="767.40" font-size="32.20" letter-spacing="0.650" fill="#000" font-family="DejaVu Sans, Liberation Sans, sans-serif" >20</text>
<line x1="1635.8" x2="1635.8" y1="720.1" y2="731.6" stroke="#000" stroke-width="2.5"/>
<text x="1614.44" y="767.40" font-size="32.20" letter-spacing="0.650" fill="#000" font-family="DejaVu Sans, Liberation Sans, sans-serif" >25</text>
<line x1="1852.3" x2="1852.3" y1="720.1" y2="731.6" stroke="#000" stroke-width="2.5"/>
<text x="1830.54" y="767.40" font-size="32.20" letter-spacing="0.650" fill="#000" font-family="DejaVu Sans, Liberation Sans, sans-serif" >30</text>
<text x="1153.92" y="818.10" font-size="38.90" letter-spacing="0.615" fill="#000" font-family="DejaVu Sans, Liberation Sans, sans-serif" font-weight="bold" >Depth [m]</text>
</svg>
</body></html>
